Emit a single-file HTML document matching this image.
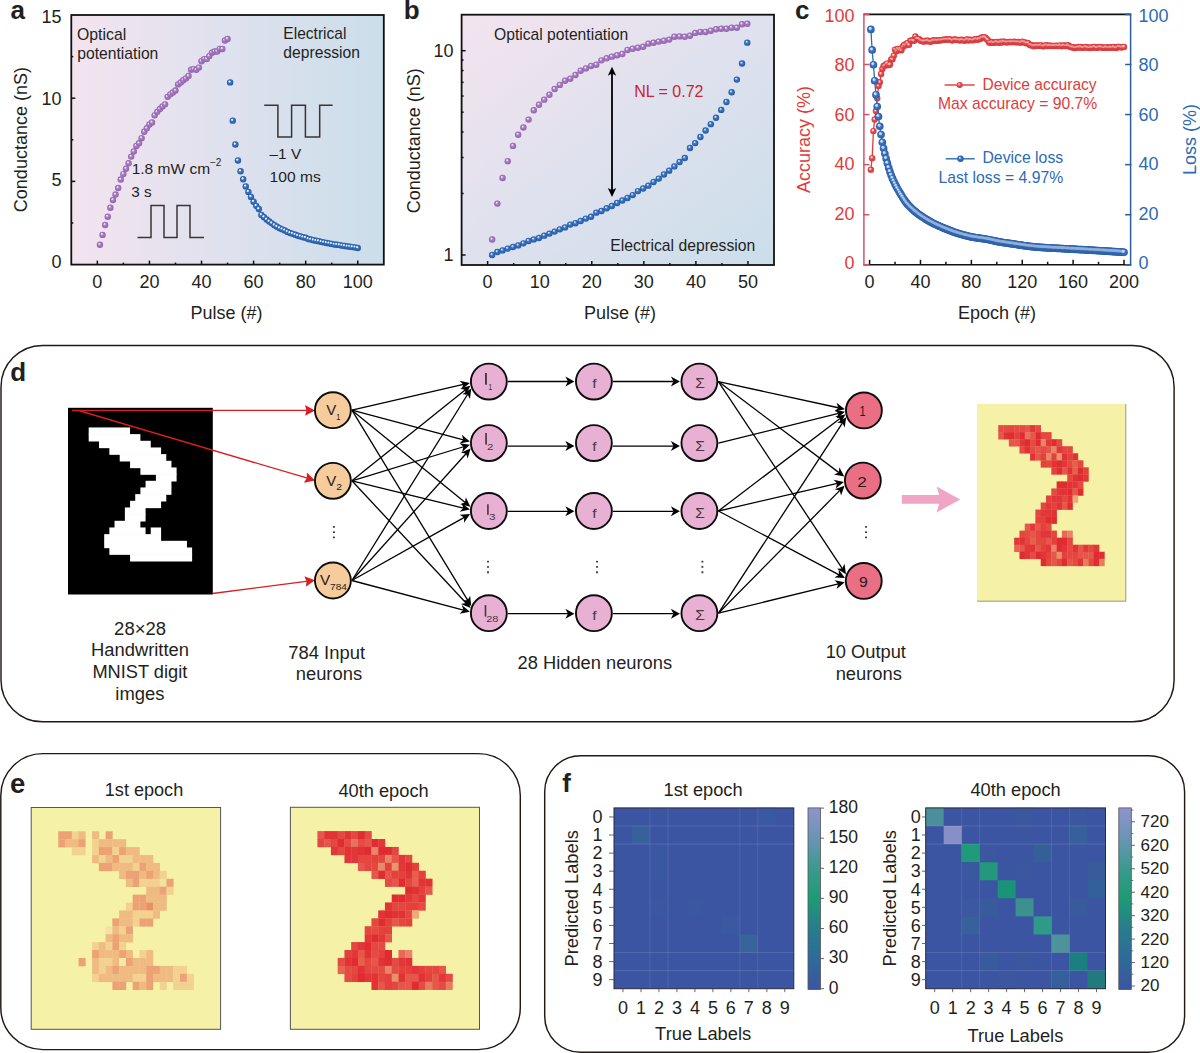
<!DOCTYPE html><html><head><meta charset="utf-8"><style>html,body{margin:0;padding:0;background:#fff}svg{display:block}text{font-family:"Liberation Sans",sans-serif}</style></head><body>
<svg width="1200" height="1053" viewBox="0 0 1200 1053">
<defs>
<linearGradient id="bga" x1="0" y1="0" x2="1" y2="0"><stop offset="0" stop-color="#f3e4ef"/><stop offset="0.5" stop-color="#dfe1ee"/><stop offset="1" stop-color="#cadeea"/></linearGradient>
<linearGradient id="bgb" x1="0" y1="0" x2="1" y2="1"><stop offset="0" stop-color="#f3e4ef"/><stop offset="0.5" stop-color="#dfe1ee"/><stop offset="1" stop-color="#cadeea"/></linearGradient>
<radialGradient id="sp" cx="0.5" cy="0.5" r="0.5" fx="0.36" fy="0.3"><stop offset="0" stop-color="#f8f0f8"/><stop offset="0.18" stop-color="#e6d2ea"/><stop offset="0.45" stop-color="#a77cc0"/><stop offset="0.8" stop-color="#9a6db6"/><stop offset="1" stop-color="#8e62ac"/></radialGradient>
<radialGradient id="sb" cx="0.5" cy="0.5" r="0.5" fx="0.36" fy="0.3"><stop offset="0" stop-color="#f0f5fc"/><stop offset="0.18" stop-color="#b8d0ee"/><stop offset="0.45" stop-color="#3a74c0"/><stop offset="0.8" stop-color="#2b64b0"/><stop offset="1" stop-color="#2458a2"/></radialGradient>
<radialGradient id="sbc" cx="0.5" cy="0.5" r="0.5" fx="0.35" fy="0.3"><stop offset="0" stop-color="#e8f0fa"/><stop offset="0.2" stop-color="#9ab8e4"/><stop offset="0.5" stop-color="#3a74c0"/><stop offset="1" stop-color="#2a5ea8"/></radialGradient>
<radialGradient id="sr" cx="0.5" cy="0.5" r="0.5" fx="0.35" fy="0.3"><stop offset="0" stop-color="#fbe4e4"/><stop offset="0.22" stop-color="#f0a0a0"/><stop offset="0.55" stop-color="#e44646"/><stop offset="1" stop-color="#d6393d"/></radialGradient>
<radialGradient id="hl" cx="0.5" cy="0.5" r="0.5"><stop offset="0" stop-color="#fff" stop-opacity="0.6"/><stop offset="0.5" stop-color="#fff" stop-opacity="0.3"/><stop offset="1" stop-color="#fff" stop-opacity="0"/></radialGradient>
<marker id="ah" viewBox="0 0 10 10" refX="10" refY="5" markerWidth="8" markerHeight="8" orient="auto-start-reverse" markerUnits="userSpaceOnUse"><path d="M0,0 L10,5 L0,10 z" fill="#000"/></marker>
</defs>
<rect x="71.3" y="15.0" width="312.5" height="249.60000000000002" fill="url(#bga)"/>
<text x="10.55" y="18.50" font-size="26" fill="#231f20" font-weight="bold">a</text>
<path d="M137.5,237.5 H151 V205.5 H164 V237.5 H177 V205.5 H190 V237.5 H204" fill="none" stroke="#3a3434" stroke-width="1.5"/>
<path d="M264.2,105.2 H277.9 V136.9 H291.6 V105.2 H305.4 V136.9 H319.7 V105.2 H332.6" fill="none" stroke="#3a3434" stroke-width="1.5"/>
<circle cx="99.95" cy="244.80" r="3.2" fill="url(#sp)"/>
<circle cx="102.55" cy="234.90" r="3.2" fill="url(#sp)"/>
<circle cx="105.15" cy="225.00" r="3.2" fill="url(#sp)"/>
<circle cx="107.76" cy="216.68" r="3.2" fill="url(#sp)"/>
<circle cx="110.36" cy="207.69" r="3.2" fill="url(#sp)"/>
<circle cx="112.97" cy="200.04" r="3.2" fill="url(#sp)"/>
<circle cx="115.57" cy="194.55" r="3.2" fill="url(#sp)"/>
<circle cx="118.17" cy="188.06" r="3.2" fill="url(#sp)"/>
<circle cx="120.78" cy="179.57" r="3.2" fill="url(#sp)"/>
<circle cx="123.38" cy="174.08" r="3.2" fill="url(#sp)"/>
<circle cx="125.99" cy="168.75" r="3.2" fill="url(#sp)"/>
<circle cx="128.59" cy="163.26" r="3.2" fill="url(#sp)"/>
<circle cx="131.20" cy="156.61" r="3.2" fill="url(#sp)"/>
<circle cx="133.80" cy="151.45" r="3.2" fill="url(#sp)"/>
<circle cx="136.40" cy="145.96" r="3.2" fill="url(#sp)"/>
<circle cx="139.01" cy="143.29" r="3.2" fill="url(#sp)"/>
<circle cx="141.61" cy="138.14" r="3.2" fill="url(#sp)"/>
<circle cx="144.22" cy="131.81" r="3.2" fill="url(#sp)"/>
<circle cx="146.82" cy="128.32" r="3.2" fill="url(#sp)"/>
<circle cx="149.43" cy="124.49" r="3.2" fill="url(#sp)"/>
<circle cx="152.03" cy="122.49" r="3.2" fill="url(#sp)"/>
<circle cx="154.63" cy="115.34" r="3.2" fill="url(#sp)"/>
<circle cx="157.24" cy="111.84" r="3.2" fill="url(#sp)"/>
<circle cx="159.84" cy="109.02" r="3.2" fill="url(#sp)"/>
<circle cx="162.45" cy="106.52" r="3.2" fill="url(#sp)"/>
<circle cx="165.05" cy="104.36" r="3.2" fill="url(#sp)"/>
<circle cx="167.65" cy="96.87" r="3.2" fill="url(#sp)"/>
<circle cx="170.26" cy="94.37" r="3.2" fill="url(#sp)"/>
<circle cx="172.86" cy="92.54" r="3.2" fill="url(#sp)"/>
<circle cx="175.47" cy="90.55" r="3.2" fill="url(#sp)"/>
<circle cx="178.07" cy="84.39" r="3.2" fill="url(#sp)"/>
<circle cx="180.68" cy="82.56" r="3.2" fill="url(#sp)"/>
<circle cx="183.28" cy="80.23" r="3.2" fill="url(#sp)"/>
<circle cx="185.88" cy="78.40" r="3.2" fill="url(#sp)"/>
<circle cx="188.49" cy="76.07" r="3.2" fill="url(#sp)"/>
<circle cx="191.09" cy="69.75" r="3.2" fill="url(#sp)"/>
<circle cx="193.70" cy="69.08" r="3.2" fill="url(#sp)"/>
<circle cx="196.30" cy="69.75" r="3.2" fill="url(#sp)"/>
<circle cx="198.90" cy="67.58" r="3.2" fill="url(#sp)"/>
<circle cx="201.51" cy="61.26" r="3.2" fill="url(#sp)"/>
<circle cx="204.11" cy="59.10" r="3.2" fill="url(#sp)"/>
<circle cx="206.72" cy="59.10" r="3.2" fill="url(#sp)"/>
<circle cx="209.32" cy="56.10" r="3.2" fill="url(#sp)"/>
<circle cx="211.93" cy="52.77" r="3.2" fill="url(#sp)"/>
<circle cx="214.53" cy="51.44" r="3.2" fill="url(#sp)"/>
<circle cx="217.13" cy="51.44" r="3.2" fill="url(#sp)"/>
<circle cx="219.74" cy="48.95" r="3.2" fill="url(#sp)"/>
<circle cx="222.34" cy="48.95" r="3.2" fill="url(#sp)"/>
<circle cx="224.95" cy="40.46" r="3.2" fill="url(#sp)"/>
<circle cx="227.55" cy="38.96" r="3.2" fill="url(#sp)"/>
<circle cx="230.15" cy="82.39" r="3.2" fill="url(#sb)"/>
<circle cx="232.76" cy="120.66" r="3.2" fill="url(#sb)"/>
<circle cx="235.36" cy="144.46" r="3.2" fill="url(#sb)"/>
<circle cx="237.97" cy="160.43" r="3.2" fill="url(#sb)"/>
<circle cx="240.57" cy="171.25" r="3.2" fill="url(#sb)"/>
<circle cx="243.18" cy="179.24" r="3.2" fill="url(#sb)"/>
<circle cx="245.78" cy="186.39" r="3.2" fill="url(#sb)"/>
<circle cx="248.38" cy="191.88" r="3.2" fill="url(#sb)"/>
<circle cx="250.99" cy="196.88" r="3.2" fill="url(#sb)"/>
<circle cx="253.59" cy="201.70" r="3.2" fill="url(#sb)"/>
<circle cx="256.20" cy="205.86" r="3.2" fill="url(#sb)"/>
<circle cx="258.80" cy="209.02" r="3.2" fill="url(#sb)"/>
<circle cx="261.40" cy="214.98" r="3.2" fill="url(#sb)"/>
<circle cx="264.01" cy="217.16" r="3.2" fill="url(#sb)"/>
<circle cx="266.61" cy="219.44" r="3.2" fill="url(#sb)"/>
<circle cx="269.22" cy="221.54" r="3.2" fill="url(#sb)"/>
<circle cx="271.82" cy="223.35" r="3.2" fill="url(#sb)"/>
<circle cx="274.43" cy="225.23" r="3.2" fill="url(#sb)"/>
<circle cx="277.03" cy="226.73" r="3.2" fill="url(#sb)"/>
<circle cx="279.63" cy="228.24" r="3.2" fill="url(#sb)"/>
<circle cx="282.24" cy="229.37" r="3.2" fill="url(#sb)"/>
<circle cx="284.84" cy="230.40" r="3.2" fill="url(#sb)"/>
<circle cx="287.45" cy="231.92" r="3.2" fill="url(#sb)"/>
<circle cx="290.05" cy="232.97" r="3.2" fill="url(#sb)"/>
<circle cx="292.65" cy="233.83" r="3.2" fill="url(#sb)"/>
<circle cx="295.26" cy="234.70" r="3.2" fill="url(#sb)"/>
<circle cx="297.86" cy="235.70" r="3.2" fill="url(#sb)"/>
<circle cx="300.47" cy="236.41" r="3.2" fill="url(#sb)"/>
<circle cx="303.07" cy="237.29" r="3.2" fill="url(#sb)"/>
<circle cx="305.68" cy="237.78" r="3.2" fill="url(#sb)"/>
<circle cx="308.28" cy="239.01" r="3.2" fill="url(#sb)"/>
<circle cx="310.88" cy="239.52" r="3.2" fill="url(#sb)"/>
<circle cx="313.49" cy="240.19" r="3.2" fill="url(#sb)"/>
<circle cx="316.09" cy="240.79" r="3.2" fill="url(#sb)"/>
<circle cx="318.70" cy="241.15" r="3.2" fill="url(#sb)"/>
<circle cx="321.30" cy="241.89" r="3.2" fill="url(#sb)"/>
<circle cx="323.90" cy="242.39" r="3.2" fill="url(#sb)"/>
<circle cx="326.51" cy="242.93" r="3.2" fill="url(#sb)"/>
<circle cx="329.11" cy="243.42" r="3.2" fill="url(#sb)"/>
<circle cx="331.72" cy="243.90" r="3.2" fill="url(#sb)"/>
<circle cx="334.32" cy="244.45" r="3.2" fill="url(#sb)"/>
<circle cx="336.93" cy="244.77" r="3.2" fill="url(#sb)"/>
<circle cx="339.53" cy="245.11" r="3.2" fill="url(#sb)"/>
<circle cx="342.13" cy="245.63" r="3.2" fill="url(#sb)"/>
<circle cx="344.74" cy="246.06" r="3.2" fill="url(#sb)"/>
<circle cx="347.34" cy="246.40" r="3.2" fill="url(#sb)"/>
<circle cx="349.95" cy="246.71" r="3.2" fill="url(#sb)"/>
<circle cx="352.55" cy="247.08" r="3.2" fill="url(#sb)"/>
<circle cx="355.15" cy="247.39" r="3.2" fill="url(#sb)"/>
<circle cx="357.76" cy="247.96" r="3.2" fill="url(#sb)"/>
<g opacity="0.7" fill="#ffffff">
<circle cx="229.51" cy="81.59" r="0.96"/>
<circle cx="232.12" cy="119.86" r="0.96"/>
<circle cx="234.72" cy="143.66" r="0.96"/>
<circle cx="237.33" cy="159.63" r="0.96"/>
<circle cx="239.93" cy="170.45" r="0.96"/>
<circle cx="242.54" cy="178.44" r="0.96"/>
<circle cx="245.14" cy="185.59" r="0.96"/>
<circle cx="247.74" cy="191.08" r="0.96"/>
<circle cx="250.35" cy="196.08" r="0.96"/>
<circle cx="252.95" cy="200.90" r="0.96"/>
<circle cx="255.56" cy="205.06" r="0.96"/>
<circle cx="258.16" cy="208.22" r="0.96"/>
<circle cx="260.76" cy="214.18" r="0.96"/>
<circle cx="263.37" cy="216.36" r="0.96"/>
<circle cx="265.97" cy="218.64" r="0.96"/>
<circle cx="268.58" cy="220.74" r="0.96"/>
<circle cx="271.18" cy="222.55" r="0.96"/>
<circle cx="273.79" cy="224.43" r="0.96"/>
<circle cx="276.39" cy="225.93" r="0.96"/>
<circle cx="278.99" cy="227.44" r="0.96"/>
<circle cx="281.60" cy="228.57" r="0.96"/>
<circle cx="284.20" cy="229.60" r="0.96"/>
<circle cx="286.81" cy="231.12" r="0.96"/>
<circle cx="289.41" cy="232.17" r="0.96"/>
<circle cx="292.01" cy="233.03" r="0.96"/>
<circle cx="294.62" cy="233.90" r="0.96"/>
<circle cx="297.22" cy="234.90" r="0.96"/>
<circle cx="299.83" cy="235.61" r="0.96"/>
<circle cx="302.43" cy="236.49" r="0.96"/>
<circle cx="305.04" cy="236.98" r="0.96"/>
<circle cx="307.64" cy="238.21" r="0.96"/>
<circle cx="310.24" cy="238.72" r="0.96"/>
<circle cx="312.85" cy="239.39" r="0.96"/>
<circle cx="315.45" cy="239.99" r="0.96"/>
<circle cx="318.06" cy="240.35" r="0.96"/>
<circle cx="320.66" cy="241.09" r="0.96"/>
<circle cx="323.26" cy="241.59" r="0.96"/>
<circle cx="325.87" cy="242.13" r="0.96"/>
<circle cx="328.47" cy="242.62" r="0.96"/>
<circle cx="331.08" cy="243.10" r="0.96"/>
<circle cx="333.68" cy="243.65" r="0.96"/>
<circle cx="336.29" cy="243.97" r="0.96"/>
<circle cx="338.89" cy="244.31" r="0.96"/>
<circle cx="341.49" cy="244.83" r="0.96"/>
<circle cx="344.10" cy="245.26" r="0.96"/>
<circle cx="346.70" cy="245.60" r="0.96"/>
<circle cx="349.31" cy="245.91" r="0.96"/>
<circle cx="351.91" cy="246.28" r="0.96"/>
<circle cx="354.51" cy="246.59" r="0.96"/>
<circle cx="357.12" cy="247.16" r="0.96"/>
</g>
<text x="77.04" y="40.40" font-size="15.7" fill="#231f20" textLength="49.17" lengthAdjust="spacingAndGlyphs">Optical</text>
<text x="77.25" y="58.75" font-size="15.7" fill="#231f20" textLength="81.07" lengthAdjust="spacingAndGlyphs">potentiation</text>
<text x="283.36" y="39.30" font-size="15.7" fill="#231f20" textLength="63.05" lengthAdjust="spacingAndGlyphs">Electrical</text>
<text x="283.37" y="57.90" font-size="15.7" fill="#231f20" textLength="76.56" lengthAdjust="spacingAndGlyphs">depression</text>
<text x="131.67" y="174.30" font-size="15.5" fill="#231f20" textLength="78.42" lengthAdjust="spacingAndGlyphs">1.8 mW cm</text>
<text x="210.00" y="166.30" font-size="10" fill="#231f20">−2</text>
<text x="131.28" y="196.70" font-size="15.5" fill="#231f20" textLength="20.36" lengthAdjust="spacingAndGlyphs">3 s</text>
<text x="269.60" y="159.25" font-size="15.5" fill="#231f20" textLength="31.54" lengthAdjust="spacingAndGlyphs">–1 V</text>
<text x="269.62" y="181.70" font-size="15.5" fill="#231f20" textLength="51.14" lengthAdjust="spacingAndGlyphs">100 ms</text>
<rect x="71.3" y="15.0" width="312.5" height="249.60000000000002" fill="none" stroke="#111" stroke-width="1.8"/>
<line x1="97.34" y1="264.60" x2="97.34" y2="260.60" stroke="#111" stroke-width="1.5"/>
<text x="97.34" y="287.50" font-size="18" fill="#231f20" text-anchor="middle">0</text>
<line x1="123.38" y1="264.60" x2="123.38" y2="262.60" stroke="#111" stroke-width="1.5"/>
<line x1="149.43" y1="264.60" x2="149.43" y2="260.60" stroke="#111" stroke-width="1.5"/>
<text x="149.43" y="287.50" font-size="18" fill="#231f20" text-anchor="middle">20</text>
<line x1="175.47" y1="264.60" x2="175.47" y2="262.60" stroke="#111" stroke-width="1.5"/>
<line x1="201.51" y1="264.60" x2="201.51" y2="260.60" stroke="#111" stroke-width="1.5"/>
<text x="201.51" y="287.50" font-size="18" fill="#231f20" text-anchor="middle">40</text>
<line x1="227.55" y1="264.60" x2="227.55" y2="262.60" stroke="#111" stroke-width="1.5"/>
<line x1="253.59" y1="264.60" x2="253.59" y2="260.60" stroke="#111" stroke-width="1.5"/>
<text x="253.59" y="287.50" font-size="18" fill="#231f20" text-anchor="middle">60</text>
<line x1="279.63" y1="264.60" x2="279.63" y2="262.60" stroke="#111" stroke-width="1.5"/>
<line x1="305.68" y1="264.60" x2="305.68" y2="260.60" stroke="#111" stroke-width="1.5"/>
<text x="305.68" y="287.50" font-size="18" fill="#231f20" text-anchor="middle">80</text>
<line x1="331.72" y1="264.60" x2="331.72" y2="262.60" stroke="#111" stroke-width="1.5"/>
<line x1="357.76" y1="264.60" x2="357.76" y2="260.60" stroke="#111" stroke-width="1.5"/>
<text x="357.76" y="287.50" font-size="18" fill="#231f20" text-anchor="middle">100</text>
<line x1="71.30" y1="223.00" x2="73.30" y2="223.00" stroke="#111" stroke-width="1.5"/>
<line x1="71.30" y1="181.40" x2="75.30" y2="181.40" stroke="#111" stroke-width="1.5"/>
<line x1="71.30" y1="139.80" x2="73.30" y2="139.80" stroke="#111" stroke-width="1.5"/>
<line x1="71.30" y1="98.20" x2="75.30" y2="98.20" stroke="#111" stroke-width="1.5"/>
<line x1="71.30" y1="56.60" x2="73.30" y2="56.60" stroke="#111" stroke-width="1.5"/>
<text x="61.50" y="268.10" font-size="18" fill="#231f20" text-anchor="end">0</text>
<text x="61.50" y="186.40" font-size="18" fill="#231f20" text-anchor="end">5</text>
<text x="61.50" y="104.70" font-size="18" fill="#231f20" text-anchor="end">10</text>
<text x="61.50" y="23.00" font-size="18" fill="#231f20" text-anchor="end">15</text>
<text x="226.50" y="318.50" font-size="18" fill="#231f20" text-anchor="middle">Pulse (#)</text>
<text x="27.50" y="139.60" font-size="18" fill="#231f20" text-anchor="middle" transform="rotate(-90 27.50 139.60)">Conductance (nS)</text>
<rect x="461.6" y="14.7" width="312.4" height="250.3" fill="url(#bgb)"/>
<text x="403.75" y="18.55" font-size="26" fill="#231f20" font-weight="bold">b</text>
<circle cx="492.14" cy="239.57" r="3.2" fill="url(#sp)"/>
<circle cx="497.35" cy="203.59" r="3.2" fill="url(#sp)"/>
<circle cx="502.55" cy="178.07" r="3.2" fill="url(#sp)"/>
<circle cx="507.76" cy="161.15" r="3.2" fill="url(#sp)"/>
<circle cx="512.97" cy="145.90" r="3.2" fill="url(#sp)"/>
<circle cx="518.17" cy="134.70" r="3.2" fill="url(#sp)"/>
<circle cx="523.38" cy="127.46" r="3.2" fill="url(#sp)"/>
<circle cx="528.59" cy="119.60" r="3.2" fill="url(#sp)"/>
<circle cx="533.79" cy="110.27" r="3.2" fill="url(#sp)"/>
<circle cx="539.00" cy="104.72" r="3.2" fill="url(#sp)"/>
<circle cx="544.21" cy="99.65" r="3.2" fill="url(#sp)"/>
<circle cx="549.41" cy="94.70" r="3.2" fill="url(#sp)"/>
<circle cx="554.62" cy="89.06" r="3.2" fill="url(#sp)"/>
<circle cx="559.83" cy="84.92" r="3.2" fill="url(#sp)"/>
<circle cx="565.03" cy="80.71" r="3.2" fill="url(#sp)"/>
<circle cx="570.24" cy="78.74" r="3.2" fill="url(#sp)"/>
<circle cx="575.45" cy="75.05" r="3.2" fill="url(#sp)"/>
<circle cx="580.65" cy="70.72" r="3.2" fill="url(#sp)"/>
<circle cx="585.86" cy="68.42" r="3.2" fill="url(#sp)"/>
<circle cx="591.07" cy="65.96" r="3.2" fill="url(#sp)"/>
<circle cx="596.27" cy="64.70" r="3.2" fill="url(#sp)"/>
<circle cx="601.48" cy="60.34" r="3.2" fill="url(#sp)"/>
<circle cx="606.69" cy="58.29" r="3.2" fill="url(#sp)"/>
<circle cx="611.89" cy="56.66" r="3.2" fill="url(#sp)"/>
<circle cx="617.10" cy="55.25" r="3.2" fill="url(#sp)"/>
<circle cx="622.31" cy="54.05" r="3.2" fill="url(#sp)"/>
<circle cx="627.51" cy="49.99" r="3.2" fill="url(#sp)"/>
<circle cx="632.72" cy="48.68" r="3.2" fill="url(#sp)"/>
<circle cx="637.93" cy="47.73" r="3.2" fill="url(#sp)"/>
<circle cx="643.13" cy="46.71" r="3.2" fill="url(#sp)"/>
<circle cx="648.34" cy="43.63" r="3.2" fill="url(#sp)"/>
<circle cx="653.55" cy="42.73" r="3.2" fill="url(#sp)"/>
<circle cx="658.75" cy="41.60" r="3.2" fill="url(#sp)"/>
<circle cx="663.96" cy="40.72" r="3.2" fill="url(#sp)"/>
<circle cx="669.17" cy="39.62" r="3.2" fill="url(#sp)"/>
<circle cx="674.37" cy="36.69" r="3.2" fill="url(#sp)"/>
<circle cx="679.58" cy="36.39" r="3.2" fill="url(#sp)"/>
<circle cx="684.79" cy="36.69" r="3.2" fill="url(#sp)"/>
<circle cx="689.99" cy="35.71" r="3.2" fill="url(#sp)"/>
<circle cx="695.20" cy="32.91" r="3.2" fill="url(#sp)"/>
<circle cx="700.41" cy="31.97" r="3.2" fill="url(#sp)"/>
<circle cx="705.61" cy="31.97" r="3.2" fill="url(#sp)"/>
<circle cx="710.82" cy="30.69" r="3.2" fill="url(#sp)"/>
<circle cx="716.03" cy="29.28" r="3.2" fill="url(#sp)"/>
<circle cx="721.23" cy="28.73" r="3.2" fill="url(#sp)"/>
<circle cx="726.44" cy="28.73" r="3.2" fill="url(#sp)"/>
<circle cx="731.65" cy="27.69" r="3.2" fill="url(#sp)"/>
<circle cx="736.85" cy="27.69" r="3.2" fill="url(#sp)"/>
<circle cx="742.06" cy="24.27" r="3.2" fill="url(#sp)"/>
<circle cx="747.27" cy="23.68" r="3.2" fill="url(#sp)"/>
<circle cx="492.14" cy="255.00" r="3.2" fill="url(#sb)"/>
<circle cx="497.35" cy="252.03" r="3.2" fill="url(#sb)"/>
<circle cx="502.55" cy="250.42" r="3.2" fill="url(#sb)"/>
<circle cx="507.76" cy="248.58" r="3.2" fill="url(#sb)"/>
<circle cx="512.97" cy="247.03" r="3.2" fill="url(#sb)"/>
<circle cx="518.17" cy="245.42" r="3.2" fill="url(#sb)"/>
<circle cx="523.38" cy="243.37" r="3.2" fill="url(#sb)"/>
<circle cx="528.59" cy="240.99" r="3.2" fill="url(#sb)"/>
<circle cx="533.79" cy="239.42" r="3.2" fill="url(#sb)"/>
<circle cx="539.00" cy="238.01" r="3.2" fill="url(#sb)"/>
<circle cx="544.21" cy="235.63" r="3.2" fill="url(#sb)"/>
<circle cx="549.41" cy="233.58" r="3.2" fill="url(#sb)"/>
<circle cx="554.62" cy="231.58" r="3.2" fill="url(#sb)"/>
<circle cx="559.83" cy="229.36" r="3.2" fill="url(#sb)"/>
<circle cx="565.03" cy="227.39" r="3.2" fill="url(#sb)"/>
<circle cx="570.24" cy="224.58" r="3.2" fill="url(#sb)"/>
<circle cx="575.45" cy="223.20" r="3.2" fill="url(#sb)"/>
<circle cx="580.65" cy="221.00" r="3.2" fill="url(#sb)"/>
<circle cx="585.86" cy="218.61" r="3.2" fill="url(#sb)"/>
<circle cx="591.07" cy="216.80" r="3.2" fill="url(#sb)"/>
<circle cx="596.27" cy="212.64" r="3.2" fill="url(#sb)"/>
<circle cx="601.48" cy="211.05" r="3.2" fill="url(#sb)"/>
<circle cx="606.69" cy="208.23" r="3.2" fill="url(#sb)"/>
<circle cx="611.89" cy="206.01" r="3.2" fill="url(#sb)"/>
<circle cx="617.10" cy="203.00" r="3.2" fill="url(#sb)"/>
<circle cx="622.31" cy="200.46" r="3.2" fill="url(#sb)"/>
<circle cx="627.51" cy="198.00" r="3.2" fill="url(#sb)"/>
<circle cx="632.72" cy="195.11" r="3.2" fill="url(#sb)"/>
<circle cx="637.93" cy="191.09" r="3.2" fill="url(#sb)"/>
<circle cx="643.13" cy="188.46" r="3.2" fill="url(#sb)"/>
<circle cx="648.34" cy="185.65" r="3.2" fill="url(#sb)"/>
<circle cx="653.55" cy="182.03" r="3.2" fill="url(#sb)"/>
<circle cx="658.75" cy="178.59" r="3.2" fill="url(#sb)"/>
<circle cx="663.96" cy="174.45" r="3.2" fill="url(#sb)"/>
<circle cx="669.17" cy="170.63" r="3.2" fill="url(#sb)"/>
<circle cx="674.37" cy="166.41" r="3.2" fill="url(#sb)"/>
<circle cx="679.58" cy="162.04" r="3.2" fill="url(#sb)"/>
<circle cx="684.79" cy="158.06" r="3.2" fill="url(#sb)"/>
<circle cx="689.99" cy="148.00" r="3.2" fill="url(#sb)"/>
<circle cx="695.20" cy="143.09" r="3.2" fill="url(#sb)"/>
<circle cx="700.41" cy="137.02" r="3.2" fill="url(#sb)"/>
<circle cx="705.61" cy="130.46" r="3.2" fill="url(#sb)"/>
<circle cx="710.82" cy="124.15" r="3.2" fill="url(#sb)"/>
<circle cx="716.03" cy="117.69" r="3.2" fill="url(#sb)"/>
<circle cx="721.23" cy="109.92" r="3.2" fill="url(#sb)"/>
<circle cx="726.44" cy="101.99" r="3.2" fill="url(#sb)"/>
<circle cx="731.65" cy="92.26" r="3.2" fill="url(#sb)"/>
<circle cx="736.85" cy="79.60" r="3.2" fill="url(#sb)"/>
<circle cx="742.06" cy="63.57" r="3.2" fill="url(#sb)"/>
<circle cx="747.27" cy="42.65" r="3.2" fill="url(#sb)"/>
<line x1="612.00" y1="72.00" x2="612.00" y2="192.00" stroke="#000" stroke-width="1.8"/>
<path d="M612,66.7 L607.8,75.8 L612,73.6 L616.2,75.8 Z" fill="#000"/>
<path d="M612,197 L607.8,187.9 L612,190.1 L616.2,187.9 Z" fill="#000"/>
<text x="634.32" y="97.30" font-size="15.7" fill="#c8252c" textLength="69.16" lengthAdjust="spacingAndGlyphs">NL = 0.72</text>
<text x="494.00" y="40.40" font-size="15.7" fill="#231f20" textLength="134.14" lengthAdjust="spacingAndGlyphs">Optical potentiation</text>
<text x="610.34" y="251.25" font-size="15.7" fill="#231f20" textLength="144.97" lengthAdjust="spacingAndGlyphs">Electrical depression</text>
<rect x="461.6" y="14.7" width="312.4" height="250.3" fill="none" stroke="#111" stroke-width="1.8"/>
<line x1="487.63" y1="265.00" x2="487.63" y2="261.00" stroke="#111" stroke-width="1.5"/>
<text x="487.63" y="287.50" font-size="18" fill="#231f20" text-anchor="middle">0</text>
<line x1="513.67" y1="265.00" x2="513.67" y2="263.00" stroke="#111" stroke-width="1.5"/>
<line x1="539.70" y1="265.00" x2="539.70" y2="261.00" stroke="#111" stroke-width="1.5"/>
<text x="539.70" y="287.50" font-size="18" fill="#231f20" text-anchor="middle">10</text>
<line x1="565.73" y1="265.00" x2="565.73" y2="263.00" stroke="#111" stroke-width="1.5"/>
<line x1="591.77" y1="265.00" x2="591.77" y2="261.00" stroke="#111" stroke-width="1.5"/>
<text x="591.77" y="287.50" font-size="18" fill="#231f20" text-anchor="middle">20</text>
<line x1="617.80" y1="265.00" x2="617.80" y2="263.00" stroke="#111" stroke-width="1.5"/>
<line x1="643.83" y1="265.00" x2="643.83" y2="261.00" stroke="#111" stroke-width="1.5"/>
<text x="643.83" y="287.50" font-size="18" fill="#231f20" text-anchor="middle">30</text>
<line x1="669.87" y1="265.00" x2="669.87" y2="263.00" stroke="#111" stroke-width="1.5"/>
<line x1="695.90" y1="265.00" x2="695.90" y2="261.00" stroke="#111" stroke-width="1.5"/>
<text x="695.90" y="287.50" font-size="18" fill="#231f20" text-anchor="middle">40</text>
<line x1="721.93" y1="265.00" x2="721.93" y2="263.00" stroke="#111" stroke-width="1.5"/>
<line x1="747.97" y1="265.00" x2="747.97" y2="261.00" stroke="#111" stroke-width="1.5"/>
<text x="747.97" y="287.50" font-size="18" fill="#231f20" text-anchor="middle">50</text>
<line x1="461.60" y1="255.00" x2="465.60" y2="255.00" stroke="#111" stroke-width="1.5"/>
<line x1="461.60" y1="193.50" x2="463.60" y2="193.50" stroke="#111" stroke-width="1.5"/>
<line x1="461.60" y1="157.52" x2="463.60" y2="157.52" stroke="#111" stroke-width="1.5"/>
<line x1="461.60" y1="132.00" x2="463.60" y2="132.00" stroke="#111" stroke-width="1.5"/>
<line x1="461.60" y1="112.20" x2="463.60" y2="112.20" stroke="#111" stroke-width="1.5"/>
<line x1="461.60" y1="96.02" x2="463.60" y2="96.02" stroke="#111" stroke-width="1.5"/>
<line x1="461.60" y1="82.35" x2="463.60" y2="82.35" stroke="#111" stroke-width="1.5"/>
<line x1="461.60" y1="70.50" x2="463.60" y2="70.50" stroke="#111" stroke-width="1.5"/>
<line x1="461.60" y1="60.05" x2="463.60" y2="60.05" stroke="#111" stroke-width="1.5"/>
<line x1="461.60" y1="50.70" x2="465.60" y2="50.70" stroke="#111" stroke-width="1.5"/>
<text x="453.50" y="57.00" font-size="18" fill="#231f20" text-anchor="end">10</text>
<text x="453.50" y="261.30" font-size="18" fill="#231f20" text-anchor="end">1</text>
<text x="620.10" y="318.50" font-size="18" fill="#231f20" text-anchor="middle">Pulse (#)</text>
<text x="420.50" y="140.80" font-size="18" fill="#231f20" text-anchor="middle" transform="rotate(-90 420.50 140.80)">Conductance (nS)</text>
<text x="795.00" y="19.05" font-size="26" fill="#231f20" font-weight="bold">c</text>
<polyline points="870.87,169.65 872.14,158.13 873.42,131.09 874.69,119.57 875.96,111.05 877.23,98.28 878.50,86.01 879.78,82.26 881.05,74.00 882.32,68.92 883.59,65.93 884.86,65.82 886.14,64.12 887.41,63.41 888.68,65.16 889.95,64.45 891.22,59.45 892.50,59.29 893.77,55.64 895.04,49.73 896.31,51.24 897.58,49.03 898.86,50.18 900.13,48.83 901.40,50.20 902.67,47.06 903.94,45.02 905.22,45.60 906.49,43.67 907.76,43.05 909.03,44.85 910.30,40.78 911.58,40.42 912.85,40.49 914.12,40.71 915.39,36.54 916.66,38.82 917.94,38.83 919.21,39.23 920.48,40.48 921.75,40.91 923.02,41.54 924.30,40.99 925.57,41.38 926.84,40.71 928.11,40.72 929.38,41.62 930.66,41.47 931.93,41.26 933.20,40.19 934.47,40.73 935.74,40.38 937.02,40.69 938.29,40.34 939.56,40.40 940.83,40.35 942.10,39.97 943.38,39.90 944.65,39.45 945.92,39.71 947.19,39.41 948.46,39.52 949.74,39.38 951.01,39.81 952.28,40.49 953.55,39.65 954.82,39.56 956.10,39.66 957.37,40.10 958.64,39.92 959.91,40.55 961.18,39.76 962.46,40.07 963.73,40.42 965.00,40.67 966.27,39.65 967.54,39.45 968.82,40.54 970.09,39.61 971.36,40.05 972.63,40.31 973.90,40.02 975.18,39.27 976.45,38.95 977.72,39.76 978.99,38.80 980.26,39.00 981.54,37.49 982.81,37.65 984.08,37.17 985.35,37.60 986.62,38.93 987.90,40.14 989.17,42.43 990.44,42.72 991.71,42.07 992.98,42.78 994.26,42.57 995.53,42.31 996.80,42.06 998.07,42.62 999.34,42.77 1000.62,41.73 1001.89,42.43 1003.16,41.62 1004.43,41.70 1005.70,42.35 1006.98,42.24 1008.25,42.17 1009.52,42.01 1010.79,42.07 1012.06,42.12 1013.34,42.04 1014.61,41.64 1015.88,42.19 1017.15,42.28 1018.42,41.92 1019.70,42.52 1020.97,42.44 1022.24,41.60 1023.51,42.23 1024.78,42.36 1026.06,43.27 1027.33,43.05 1028.60,43.44 1029.87,45.07 1031.14,45.18 1032.42,45.53 1033.69,46.25 1034.96,45.54 1036.23,45.74 1037.50,45.48 1038.78,45.88 1040.05,45.44 1041.32,45.40 1042.59,46.30 1043.86,46.25 1045.14,45.48 1046.41,45.12 1047.68,46.01 1048.95,45.75 1050.22,45.58 1051.50,45.93 1052.77,45.87 1054.04,45.93 1055.31,45.86 1056.58,45.58 1057.86,45.95 1059.13,45.85 1060.40,45.36 1061.67,46.29 1062.94,45.61 1064.22,45.41 1065.49,45.94 1066.76,46.05 1068.03,45.32 1069.30,46.30 1070.58,46.97 1071.85,47.26 1073.12,47.20 1074.39,47.95 1075.66,47.68 1076.94,47.66 1078.21,47.04 1079.48,47.53 1080.75,47.01 1082.02,47.87 1083.30,47.66 1084.57,47.26 1085.84,46.97 1087.11,47.51 1088.38,47.80 1089.66,47.93 1090.93,47.42 1092.20,47.84 1093.47,47.07 1094.74,47.03 1096.02,47.85 1097.29,47.73 1098.56,47.07 1099.83,47.28 1101.10,47.07 1102.38,47.65 1103.65,47.92 1104.92,47.71 1106.19,47.08 1107.46,47.74 1108.74,47.65 1110.01,47.56 1111.28,47.55 1112.55,47.57 1113.82,46.93 1115.10,47.88 1116.37,48.07 1117.64,46.90 1118.91,46.98 1120.18,46.84 1121.46,47.53 1122.73,46.89 1124.00,46.92" fill="none" stroke="#e03c3c" stroke-width="1.3"/>
<circle cx="870.87" cy="169.65" r="3.2" fill="url(#sr)"/>
<circle cx="872.14" cy="158.13" r="3.2" fill="url(#sr)"/>
<circle cx="873.42" cy="131.09" r="3.2" fill="url(#sr)"/>
<circle cx="874.69" cy="119.57" r="3.2" fill="url(#sr)"/>
<circle cx="875.96" cy="111.05" r="3.2" fill="url(#sr)"/>
<circle cx="877.23" cy="98.28" r="3.2" fill="url(#sr)"/>
<circle cx="878.50" cy="86.01" r="3.2" fill="url(#sr)"/>
<circle cx="879.78" cy="82.26" r="3.2" fill="url(#sr)"/>
<circle cx="881.05" cy="74.00" r="3.2" fill="url(#sr)"/>
<circle cx="882.32" cy="68.92" r="3.2" fill="url(#sr)"/>
<circle cx="883.59" cy="65.93" r="3.2" fill="url(#sr)"/>
<circle cx="884.86" cy="65.82" r="3.2" fill="url(#sr)"/>
<circle cx="886.14" cy="64.12" r="3.2" fill="url(#sr)"/>
<circle cx="887.41" cy="63.41" r="3.2" fill="url(#sr)"/>
<circle cx="888.68" cy="65.16" r="3.2" fill="url(#sr)"/>
<circle cx="889.95" cy="64.45" r="3.2" fill="url(#sr)"/>
<circle cx="891.22" cy="59.45" r="3.2" fill="url(#sr)"/>
<circle cx="892.50" cy="59.29" r="3.2" fill="url(#sr)"/>
<circle cx="893.77" cy="55.64" r="3.2" fill="url(#sr)"/>
<circle cx="895.04" cy="49.73" r="3.2" fill="url(#sr)"/>
<circle cx="896.31" cy="51.24" r="3.2" fill="url(#sr)"/>
<circle cx="897.58" cy="49.03" r="3.2" fill="url(#sr)"/>
<circle cx="898.86" cy="50.18" r="3.2" fill="url(#sr)"/>
<circle cx="900.13" cy="48.83" r="3.2" fill="url(#sr)"/>
<circle cx="901.40" cy="50.20" r="3.2" fill="url(#sr)"/>
<circle cx="902.67" cy="47.06" r="3.2" fill="url(#sr)"/>
<circle cx="903.94" cy="45.02" r="3.2" fill="url(#sr)"/>
<circle cx="905.22" cy="45.60" r="3.2" fill="url(#sr)"/>
<circle cx="906.49" cy="43.67" r="3.2" fill="url(#sr)"/>
<circle cx="907.76" cy="43.05" r="3.2" fill="url(#sr)"/>
<circle cx="909.03" cy="44.85" r="3.2" fill="url(#sr)"/>
<circle cx="910.30" cy="40.78" r="3.2" fill="url(#sr)"/>
<circle cx="911.58" cy="40.42" r="3.2" fill="url(#sr)"/>
<circle cx="912.85" cy="40.49" r="3.2" fill="url(#sr)"/>
<circle cx="914.12" cy="40.71" r="3.2" fill="url(#sr)"/>
<circle cx="915.39" cy="36.54" r="3.2" fill="url(#sr)"/>
<circle cx="916.66" cy="38.82" r="3.2" fill="url(#sr)"/>
<circle cx="917.94" cy="38.83" r="3.2" fill="url(#sr)"/>
<circle cx="919.21" cy="39.23" r="3.2" fill="url(#sr)"/>
<circle cx="920.48" cy="40.48" r="3.2" fill="url(#sr)"/>
<circle cx="921.75" cy="40.91" r="3.2" fill="url(#sr)"/>
<circle cx="923.02" cy="41.54" r="3.2" fill="url(#sr)"/>
<circle cx="924.30" cy="40.99" r="3.2" fill="url(#sr)"/>
<circle cx="925.57" cy="41.38" r="3.2" fill="url(#sr)"/>
<circle cx="926.84" cy="40.71" r="3.2" fill="url(#sr)"/>
<circle cx="928.11" cy="40.72" r="3.2" fill="url(#sr)"/>
<circle cx="929.38" cy="41.62" r="3.2" fill="url(#sr)"/>
<circle cx="930.66" cy="41.47" r="3.2" fill="url(#sr)"/>
<circle cx="931.93" cy="41.26" r="3.2" fill="url(#sr)"/>
<circle cx="933.20" cy="40.19" r="3.2" fill="url(#sr)"/>
<circle cx="934.47" cy="40.73" r="3.2" fill="url(#sr)"/>
<circle cx="935.74" cy="40.38" r="3.2" fill="url(#sr)"/>
<circle cx="937.02" cy="40.69" r="3.2" fill="url(#sr)"/>
<circle cx="938.29" cy="40.34" r="3.2" fill="url(#sr)"/>
<circle cx="939.56" cy="40.40" r="3.2" fill="url(#sr)"/>
<circle cx="940.83" cy="40.35" r="3.2" fill="url(#sr)"/>
<circle cx="942.10" cy="39.97" r="3.2" fill="url(#sr)"/>
<circle cx="943.38" cy="39.90" r="3.2" fill="url(#sr)"/>
<circle cx="944.65" cy="39.45" r="3.2" fill="url(#sr)"/>
<circle cx="945.92" cy="39.71" r="3.2" fill="url(#sr)"/>
<circle cx="947.19" cy="39.41" r="3.2" fill="url(#sr)"/>
<circle cx="948.46" cy="39.52" r="3.2" fill="url(#sr)"/>
<circle cx="949.74" cy="39.38" r="3.2" fill="url(#sr)"/>
<circle cx="951.01" cy="39.81" r="3.2" fill="url(#sr)"/>
<circle cx="952.28" cy="40.49" r="3.2" fill="url(#sr)"/>
<circle cx="953.55" cy="39.65" r="3.2" fill="url(#sr)"/>
<circle cx="954.82" cy="39.56" r="3.2" fill="url(#sr)"/>
<circle cx="956.10" cy="39.66" r="3.2" fill="url(#sr)"/>
<circle cx="957.37" cy="40.10" r="3.2" fill="url(#sr)"/>
<circle cx="958.64" cy="39.92" r="3.2" fill="url(#sr)"/>
<circle cx="959.91" cy="40.55" r="3.2" fill="url(#sr)"/>
<circle cx="961.18" cy="39.76" r="3.2" fill="url(#sr)"/>
<circle cx="962.46" cy="40.07" r="3.2" fill="url(#sr)"/>
<circle cx="963.73" cy="40.42" r="3.2" fill="url(#sr)"/>
<circle cx="965.00" cy="40.67" r="3.2" fill="url(#sr)"/>
<circle cx="966.27" cy="39.65" r="3.2" fill="url(#sr)"/>
<circle cx="967.54" cy="39.45" r="3.2" fill="url(#sr)"/>
<circle cx="968.82" cy="40.54" r="3.2" fill="url(#sr)"/>
<circle cx="970.09" cy="39.61" r="3.2" fill="url(#sr)"/>
<circle cx="971.36" cy="40.05" r="3.2" fill="url(#sr)"/>
<circle cx="972.63" cy="40.31" r="3.2" fill="url(#sr)"/>
<circle cx="973.90" cy="40.02" r="3.2" fill="url(#sr)"/>
<circle cx="975.18" cy="39.27" r="3.2" fill="url(#sr)"/>
<circle cx="976.45" cy="38.95" r="3.2" fill="url(#sr)"/>
<circle cx="977.72" cy="39.76" r="3.2" fill="url(#sr)"/>
<circle cx="978.99" cy="38.80" r="3.2" fill="url(#sr)"/>
<circle cx="980.26" cy="39.00" r="3.2" fill="url(#sr)"/>
<circle cx="981.54" cy="37.49" r="3.2" fill="url(#sr)"/>
<circle cx="982.81" cy="37.65" r="3.2" fill="url(#sr)"/>
<circle cx="984.08" cy="37.17" r="3.2" fill="url(#sr)"/>
<circle cx="985.35" cy="37.60" r="3.2" fill="url(#sr)"/>
<circle cx="986.62" cy="38.93" r="3.2" fill="url(#sr)"/>
<circle cx="987.90" cy="40.14" r="3.2" fill="url(#sr)"/>
<circle cx="989.17" cy="42.43" r="3.2" fill="url(#sr)"/>
<circle cx="990.44" cy="42.72" r="3.2" fill="url(#sr)"/>
<circle cx="991.71" cy="42.07" r="3.2" fill="url(#sr)"/>
<circle cx="992.98" cy="42.78" r="3.2" fill="url(#sr)"/>
<circle cx="994.26" cy="42.57" r="3.2" fill="url(#sr)"/>
<circle cx="995.53" cy="42.31" r="3.2" fill="url(#sr)"/>
<circle cx="996.80" cy="42.06" r="3.2" fill="url(#sr)"/>
<circle cx="998.07" cy="42.62" r="3.2" fill="url(#sr)"/>
<circle cx="999.34" cy="42.77" r="3.2" fill="url(#sr)"/>
<circle cx="1000.62" cy="41.73" r="3.2" fill="url(#sr)"/>
<circle cx="1001.89" cy="42.43" r="3.2" fill="url(#sr)"/>
<circle cx="1003.16" cy="41.62" r="3.2" fill="url(#sr)"/>
<circle cx="1004.43" cy="41.70" r="3.2" fill="url(#sr)"/>
<circle cx="1005.70" cy="42.35" r="3.2" fill="url(#sr)"/>
<circle cx="1006.98" cy="42.24" r="3.2" fill="url(#sr)"/>
<circle cx="1008.25" cy="42.17" r="3.2" fill="url(#sr)"/>
<circle cx="1009.52" cy="42.01" r="3.2" fill="url(#sr)"/>
<circle cx="1010.79" cy="42.07" r="3.2" fill="url(#sr)"/>
<circle cx="1012.06" cy="42.12" r="3.2" fill="url(#sr)"/>
<circle cx="1013.34" cy="42.04" r="3.2" fill="url(#sr)"/>
<circle cx="1014.61" cy="41.64" r="3.2" fill="url(#sr)"/>
<circle cx="1015.88" cy="42.19" r="3.2" fill="url(#sr)"/>
<circle cx="1017.15" cy="42.28" r="3.2" fill="url(#sr)"/>
<circle cx="1018.42" cy="41.92" r="3.2" fill="url(#sr)"/>
<circle cx="1019.70" cy="42.52" r="3.2" fill="url(#sr)"/>
<circle cx="1020.97" cy="42.44" r="3.2" fill="url(#sr)"/>
<circle cx="1022.24" cy="41.60" r="3.2" fill="url(#sr)"/>
<circle cx="1023.51" cy="42.23" r="3.2" fill="url(#sr)"/>
<circle cx="1024.78" cy="42.36" r="3.2" fill="url(#sr)"/>
<circle cx="1026.06" cy="43.27" r="3.2" fill="url(#sr)"/>
<circle cx="1027.33" cy="43.05" r="3.2" fill="url(#sr)"/>
<circle cx="1028.60" cy="43.44" r="3.2" fill="url(#sr)"/>
<circle cx="1029.87" cy="45.07" r="3.2" fill="url(#sr)"/>
<circle cx="1031.14" cy="45.18" r="3.2" fill="url(#sr)"/>
<circle cx="1032.42" cy="45.53" r="3.2" fill="url(#sr)"/>
<circle cx="1033.69" cy="46.25" r="3.2" fill="url(#sr)"/>
<circle cx="1034.96" cy="45.54" r="3.2" fill="url(#sr)"/>
<circle cx="1036.23" cy="45.74" r="3.2" fill="url(#sr)"/>
<circle cx="1037.50" cy="45.48" r="3.2" fill="url(#sr)"/>
<circle cx="1038.78" cy="45.88" r="3.2" fill="url(#sr)"/>
<circle cx="1040.05" cy="45.44" r="3.2" fill="url(#sr)"/>
<circle cx="1041.32" cy="45.40" r="3.2" fill="url(#sr)"/>
<circle cx="1042.59" cy="46.30" r="3.2" fill="url(#sr)"/>
<circle cx="1043.86" cy="46.25" r="3.2" fill="url(#sr)"/>
<circle cx="1045.14" cy="45.48" r="3.2" fill="url(#sr)"/>
<circle cx="1046.41" cy="45.12" r="3.2" fill="url(#sr)"/>
<circle cx="1047.68" cy="46.01" r="3.2" fill="url(#sr)"/>
<circle cx="1048.95" cy="45.75" r="3.2" fill="url(#sr)"/>
<circle cx="1050.22" cy="45.58" r="3.2" fill="url(#sr)"/>
<circle cx="1051.50" cy="45.93" r="3.2" fill="url(#sr)"/>
<circle cx="1052.77" cy="45.87" r="3.2" fill="url(#sr)"/>
<circle cx="1054.04" cy="45.93" r="3.2" fill="url(#sr)"/>
<circle cx="1055.31" cy="45.86" r="3.2" fill="url(#sr)"/>
<circle cx="1056.58" cy="45.58" r="3.2" fill="url(#sr)"/>
<circle cx="1057.86" cy="45.95" r="3.2" fill="url(#sr)"/>
<circle cx="1059.13" cy="45.85" r="3.2" fill="url(#sr)"/>
<circle cx="1060.40" cy="45.36" r="3.2" fill="url(#sr)"/>
<circle cx="1061.67" cy="46.29" r="3.2" fill="url(#sr)"/>
<circle cx="1062.94" cy="45.61" r="3.2" fill="url(#sr)"/>
<circle cx="1064.22" cy="45.41" r="3.2" fill="url(#sr)"/>
<circle cx="1065.49" cy="45.94" r="3.2" fill="url(#sr)"/>
<circle cx="1066.76" cy="46.05" r="3.2" fill="url(#sr)"/>
<circle cx="1068.03" cy="45.32" r="3.2" fill="url(#sr)"/>
<circle cx="1069.30" cy="46.30" r="3.2" fill="url(#sr)"/>
<circle cx="1070.58" cy="46.97" r="3.2" fill="url(#sr)"/>
<circle cx="1071.85" cy="47.26" r="3.2" fill="url(#sr)"/>
<circle cx="1073.12" cy="47.20" r="3.2" fill="url(#sr)"/>
<circle cx="1074.39" cy="47.95" r="3.2" fill="url(#sr)"/>
<circle cx="1075.66" cy="47.68" r="3.2" fill="url(#sr)"/>
<circle cx="1076.94" cy="47.66" r="3.2" fill="url(#sr)"/>
<circle cx="1078.21" cy="47.04" r="3.2" fill="url(#sr)"/>
<circle cx="1079.48" cy="47.53" r="3.2" fill="url(#sr)"/>
<circle cx="1080.75" cy="47.01" r="3.2" fill="url(#sr)"/>
<circle cx="1082.02" cy="47.87" r="3.2" fill="url(#sr)"/>
<circle cx="1083.30" cy="47.66" r="3.2" fill="url(#sr)"/>
<circle cx="1084.57" cy="47.26" r="3.2" fill="url(#sr)"/>
<circle cx="1085.84" cy="46.97" r="3.2" fill="url(#sr)"/>
<circle cx="1087.11" cy="47.51" r="3.2" fill="url(#sr)"/>
<circle cx="1088.38" cy="47.80" r="3.2" fill="url(#sr)"/>
<circle cx="1089.66" cy="47.93" r="3.2" fill="url(#sr)"/>
<circle cx="1090.93" cy="47.42" r="3.2" fill="url(#sr)"/>
<circle cx="1092.20" cy="47.84" r="3.2" fill="url(#sr)"/>
<circle cx="1093.47" cy="47.07" r="3.2" fill="url(#sr)"/>
<circle cx="1094.74" cy="47.03" r="3.2" fill="url(#sr)"/>
<circle cx="1096.02" cy="47.85" r="3.2" fill="url(#sr)"/>
<circle cx="1097.29" cy="47.73" r="3.2" fill="url(#sr)"/>
<circle cx="1098.56" cy="47.07" r="3.2" fill="url(#sr)"/>
<circle cx="1099.83" cy="47.28" r="3.2" fill="url(#sr)"/>
<circle cx="1101.10" cy="47.07" r="3.2" fill="url(#sr)"/>
<circle cx="1102.38" cy="47.65" r="3.2" fill="url(#sr)"/>
<circle cx="1103.65" cy="47.92" r="3.2" fill="url(#sr)"/>
<circle cx="1104.92" cy="47.71" r="3.2" fill="url(#sr)"/>
<circle cx="1106.19" cy="47.08" r="3.2" fill="url(#sr)"/>
<circle cx="1107.46" cy="47.74" r="3.2" fill="url(#sr)"/>
<circle cx="1108.74" cy="47.65" r="3.2" fill="url(#sr)"/>
<circle cx="1110.01" cy="47.56" r="3.2" fill="url(#sr)"/>
<circle cx="1111.28" cy="47.55" r="3.2" fill="url(#sr)"/>
<circle cx="1112.55" cy="47.57" r="3.2" fill="url(#sr)"/>
<circle cx="1113.82" cy="46.93" r="3.2" fill="url(#sr)"/>
<circle cx="1115.10" cy="47.88" r="3.2" fill="url(#sr)"/>
<circle cx="1116.37" cy="48.07" r="3.2" fill="url(#sr)"/>
<circle cx="1117.64" cy="46.90" r="3.2" fill="url(#sr)"/>
<circle cx="1118.91" cy="46.98" r="3.2" fill="url(#sr)"/>
<circle cx="1120.18" cy="46.84" r="3.2" fill="url(#sr)"/>
<circle cx="1121.46" cy="47.53" r="3.2" fill="url(#sr)"/>
<circle cx="1122.73" cy="46.89" r="3.2" fill="url(#sr)"/>
<circle cx="1124.00" cy="46.92" r="3.2" fill="url(#sr)"/>
<g opacity="0.45" fill="#ffffff">
<circle cx="870.39" cy="168.85" r="0.96"/>
<circle cx="871.66" cy="157.33" r="0.96"/>
<circle cx="872.94" cy="130.29" r="0.96"/>
<circle cx="874.21" cy="118.77" r="0.96"/>
<circle cx="875.48" cy="110.25" r="0.96"/>
<circle cx="876.75" cy="97.48" r="0.96"/>
<circle cx="878.02" cy="85.21" r="0.96"/>
<circle cx="879.30" cy="81.46" r="0.96"/>
<circle cx="880.57" cy="73.20" r="0.96"/>
<circle cx="881.84" cy="68.12" r="0.96"/>
<circle cx="883.11" cy="65.13" r="0.96"/>
<circle cx="884.38" cy="65.02" r="0.96"/>
<circle cx="885.66" cy="63.32" r="0.96"/>
<circle cx="886.93" cy="62.61" r="0.96"/>
<circle cx="888.20" cy="64.36" r="0.96"/>
<circle cx="889.47" cy="63.65" r="0.96"/>
<circle cx="890.74" cy="58.65" r="0.96"/>
<circle cx="892.02" cy="58.49" r="0.96"/>
<circle cx="893.29" cy="54.84" r="0.96"/>
<circle cx="894.56" cy="48.93" r="0.96"/>
<circle cx="895.83" cy="50.44" r="0.96"/>
<circle cx="897.10" cy="48.23" r="0.96"/>
<circle cx="898.38" cy="49.38" r="0.96"/>
<circle cx="899.65" cy="48.03" r="0.96"/>
<circle cx="900.92" cy="49.40" r="0.96"/>
<circle cx="902.19" cy="46.26" r="0.96"/>
<circle cx="903.46" cy="44.22" r="0.96"/>
<circle cx="904.74" cy="44.80" r="0.96"/>
<circle cx="906.01" cy="42.87" r="0.96"/>
<circle cx="907.28" cy="42.25" r="0.96"/>
<circle cx="908.55" cy="44.05" r="0.96"/>
<circle cx="909.82" cy="39.98" r="0.96"/>
<circle cx="911.10" cy="39.62" r="0.96"/>
<circle cx="912.37" cy="39.69" r="0.96"/>
<circle cx="913.64" cy="39.91" r="0.96"/>
<circle cx="914.91" cy="35.74" r="0.96"/>
<circle cx="916.18" cy="38.02" r="0.96"/>
<circle cx="917.46" cy="38.03" r="0.96"/>
<circle cx="918.73" cy="38.43" r="0.96"/>
<circle cx="920.00" cy="39.68" r="0.96"/>
<circle cx="921.27" cy="40.11" r="0.96"/>
<circle cx="922.54" cy="40.74" r="0.96"/>
<circle cx="923.82" cy="40.19" r="0.96"/>
<circle cx="925.09" cy="40.58" r="0.96"/>
<circle cx="926.36" cy="39.91" r="0.96"/>
<circle cx="927.63" cy="39.92" r="0.96"/>
<circle cx="928.90" cy="40.82" r="0.96"/>
<circle cx="930.18" cy="40.67" r="0.96"/>
<circle cx="931.45" cy="40.46" r="0.96"/>
<circle cx="932.72" cy="39.39" r="0.96"/>
<circle cx="933.99" cy="39.93" r="0.96"/>
<circle cx="935.26" cy="39.58" r="0.96"/>
<circle cx="936.54" cy="39.89" r="0.96"/>
<circle cx="937.81" cy="39.54" r="0.96"/>
<circle cx="939.08" cy="39.60" r="0.96"/>
<circle cx="940.35" cy="39.55" r="0.96"/>
<circle cx="941.62" cy="39.17" r="0.96"/>
<circle cx="942.90" cy="39.10" r="0.96"/>
<circle cx="944.17" cy="38.65" r="0.96"/>
<circle cx="945.44" cy="38.91" r="0.96"/>
<circle cx="946.71" cy="38.61" r="0.96"/>
<circle cx="947.98" cy="38.72" r="0.96"/>
<circle cx="949.26" cy="38.58" r="0.96"/>
<circle cx="950.53" cy="39.01" r="0.96"/>
<circle cx="951.80" cy="39.69" r="0.96"/>
<circle cx="953.07" cy="38.85" r="0.96"/>
<circle cx="954.34" cy="38.76" r="0.96"/>
<circle cx="955.62" cy="38.86" r="0.96"/>
<circle cx="956.89" cy="39.30" r="0.96"/>
<circle cx="958.16" cy="39.12" r="0.96"/>
<circle cx="959.43" cy="39.75" r="0.96"/>
<circle cx="960.70" cy="38.96" r="0.96"/>
<circle cx="961.98" cy="39.27" r="0.96"/>
<circle cx="963.25" cy="39.62" r="0.96"/>
<circle cx="964.52" cy="39.87" r="0.96"/>
<circle cx="965.79" cy="38.85" r="0.96"/>
<circle cx="967.06" cy="38.65" r="0.96"/>
<circle cx="968.34" cy="39.74" r="0.96"/>
<circle cx="969.61" cy="38.81" r="0.96"/>
<circle cx="970.88" cy="39.25" r="0.96"/>
<circle cx="972.15" cy="39.51" r="0.96"/>
<circle cx="973.42" cy="39.22" r="0.96"/>
<circle cx="974.70" cy="38.47" r="0.96"/>
<circle cx="975.97" cy="38.15" r="0.96"/>
<circle cx="977.24" cy="38.96" r="0.96"/>
<circle cx="978.51" cy="38.00" r="0.96"/>
<circle cx="979.78" cy="38.20" r="0.96"/>
<circle cx="981.06" cy="36.69" r="0.96"/>
<circle cx="982.33" cy="36.85" r="0.96"/>
<circle cx="983.60" cy="36.37" r="0.96"/>
<circle cx="984.87" cy="36.80" r="0.96"/>
<circle cx="986.14" cy="38.13" r="0.96"/>
<circle cx="987.42" cy="39.34" r="0.96"/>
<circle cx="988.69" cy="41.63" r="0.96"/>
<circle cx="989.96" cy="41.92" r="0.96"/>
<circle cx="991.23" cy="41.27" r="0.96"/>
<circle cx="992.50" cy="41.98" r="0.96"/>
<circle cx="993.78" cy="41.77" r="0.96"/>
<circle cx="995.05" cy="41.51" r="0.96"/>
<circle cx="996.32" cy="41.26" r="0.96"/>
<circle cx="997.59" cy="41.82" r="0.96"/>
<circle cx="998.86" cy="41.97" r="0.96"/>
<circle cx="1000.14" cy="40.93" r="0.96"/>
<circle cx="1001.41" cy="41.63" r="0.96"/>
<circle cx="1002.68" cy="40.82" r="0.96"/>
<circle cx="1003.95" cy="40.90" r="0.96"/>
<circle cx="1005.22" cy="41.55" r="0.96"/>
<circle cx="1006.50" cy="41.44" r="0.96"/>
<circle cx="1007.77" cy="41.37" r="0.96"/>
<circle cx="1009.04" cy="41.21" r="0.96"/>
<circle cx="1010.31" cy="41.27" r="0.96"/>
<circle cx="1011.58" cy="41.32" r="0.96"/>
<circle cx="1012.86" cy="41.24" r="0.96"/>
<circle cx="1014.13" cy="40.84" r="0.96"/>
<circle cx="1015.40" cy="41.39" r="0.96"/>
<circle cx="1016.67" cy="41.48" r="0.96"/>
<circle cx="1017.94" cy="41.12" r="0.96"/>
<circle cx="1019.22" cy="41.72" r="0.96"/>
<circle cx="1020.49" cy="41.64" r="0.96"/>
<circle cx="1021.76" cy="40.80" r="0.96"/>
<circle cx="1023.03" cy="41.43" r="0.96"/>
<circle cx="1024.30" cy="41.56" r="0.96"/>
<circle cx="1025.58" cy="42.47" r="0.96"/>
<circle cx="1026.85" cy="42.25" r="0.96"/>
<circle cx="1028.12" cy="42.64" r="0.96"/>
<circle cx="1029.39" cy="44.27" r="0.96"/>
<circle cx="1030.66" cy="44.38" r="0.96"/>
<circle cx="1031.94" cy="44.73" r="0.96"/>
<circle cx="1033.21" cy="45.45" r="0.96"/>
<circle cx="1034.48" cy="44.74" r="0.96"/>
<circle cx="1035.75" cy="44.94" r="0.96"/>
<circle cx="1037.02" cy="44.68" r="0.96"/>
<circle cx="1038.30" cy="45.08" r="0.96"/>
<circle cx="1039.57" cy="44.64" r="0.96"/>
<circle cx="1040.84" cy="44.60" r="0.96"/>
<circle cx="1042.11" cy="45.50" r="0.96"/>
<circle cx="1043.38" cy="45.45" r="0.96"/>
<circle cx="1044.66" cy="44.68" r="0.96"/>
<circle cx="1045.93" cy="44.32" r="0.96"/>
<circle cx="1047.20" cy="45.21" r="0.96"/>
<circle cx="1048.47" cy="44.95" r="0.96"/>
<circle cx="1049.74" cy="44.78" r="0.96"/>
<circle cx="1051.02" cy="45.13" r="0.96"/>
<circle cx="1052.29" cy="45.07" r="0.96"/>
<circle cx="1053.56" cy="45.13" r="0.96"/>
<circle cx="1054.83" cy="45.06" r="0.96"/>
<circle cx="1056.10" cy="44.78" r="0.96"/>
<circle cx="1057.38" cy="45.15" r="0.96"/>
<circle cx="1058.65" cy="45.05" r="0.96"/>
<circle cx="1059.92" cy="44.56" r="0.96"/>
<circle cx="1061.19" cy="45.49" r="0.96"/>
<circle cx="1062.46" cy="44.81" r="0.96"/>
<circle cx="1063.74" cy="44.61" r="0.96"/>
<circle cx="1065.01" cy="45.14" r="0.96"/>
<circle cx="1066.28" cy="45.25" r="0.96"/>
<circle cx="1067.55" cy="44.52" r="0.96"/>
<circle cx="1068.82" cy="45.50" r="0.96"/>
<circle cx="1070.10" cy="46.17" r="0.96"/>
<circle cx="1071.37" cy="46.46" r="0.96"/>
<circle cx="1072.64" cy="46.40" r="0.96"/>
<circle cx="1073.91" cy="47.15" r="0.96"/>
<circle cx="1075.18" cy="46.88" r="0.96"/>
<circle cx="1076.46" cy="46.86" r="0.96"/>
<circle cx="1077.73" cy="46.24" r="0.96"/>
<circle cx="1079.00" cy="46.73" r="0.96"/>
<circle cx="1080.27" cy="46.21" r="0.96"/>
<circle cx="1081.54" cy="47.07" r="0.96"/>
<circle cx="1082.82" cy="46.86" r="0.96"/>
<circle cx="1084.09" cy="46.46" r="0.96"/>
<circle cx="1085.36" cy="46.17" r="0.96"/>
<circle cx="1086.63" cy="46.71" r="0.96"/>
<circle cx="1087.90" cy="47.00" r="0.96"/>
<circle cx="1089.18" cy="47.13" r="0.96"/>
<circle cx="1090.45" cy="46.62" r="0.96"/>
<circle cx="1091.72" cy="47.04" r="0.96"/>
<circle cx="1092.99" cy="46.27" r="0.96"/>
<circle cx="1094.26" cy="46.23" r="0.96"/>
<circle cx="1095.54" cy="47.05" r="0.96"/>
<circle cx="1096.81" cy="46.93" r="0.96"/>
<circle cx="1098.08" cy="46.27" r="0.96"/>
<circle cx="1099.35" cy="46.48" r="0.96"/>
<circle cx="1100.62" cy="46.27" r="0.96"/>
<circle cx="1101.90" cy="46.85" r="0.96"/>
<circle cx="1103.17" cy="47.12" r="0.96"/>
<circle cx="1104.44" cy="46.91" r="0.96"/>
<circle cx="1105.71" cy="46.28" r="0.96"/>
<circle cx="1106.98" cy="46.94" r="0.96"/>
<circle cx="1108.26" cy="46.85" r="0.96"/>
<circle cx="1109.53" cy="46.76" r="0.96"/>
<circle cx="1110.80" cy="46.75" r="0.96"/>
<circle cx="1112.07" cy="46.77" r="0.96"/>
<circle cx="1113.34" cy="46.13" r="0.96"/>
<circle cx="1114.62" cy="47.08" r="0.96"/>
<circle cx="1115.89" cy="47.27" r="0.96"/>
<circle cx="1117.16" cy="46.10" r="0.96"/>
<circle cx="1118.43" cy="46.18" r="0.96"/>
<circle cx="1119.70" cy="46.04" r="0.96"/>
<circle cx="1120.98" cy="46.73" r="0.96"/>
<circle cx="1122.25" cy="46.09" r="0.96"/>
<circle cx="1123.52" cy="46.12" r="0.96"/>
</g>
<polyline points="870.87,29.42 872.14,49.96 873.42,64.73 874.69,80.76 875.96,94.78 877.23,106.55 878.50,116.56 879.78,126.33 881.05,134.59 882.32,142.35 883.59,148.36 884.86,153.62 886.14,158.49 887.41,163.21 888.68,167.67 889.95,171.72 891.22,175.26 892.50,178.40 893.77,181.25 895.04,183.90 896.31,186.42 897.58,188.79 898.86,191.01 900.13,193.13 901.40,195.19 902.67,197.24 903.94,199.26 905.22,201.16 906.49,202.88 907.76,204.41 909.03,205.81 910.30,207.11 911.58,208.33 912.85,209.51 914.12,210.64 915.39,211.72 916.66,212.75 917.94,213.74 919.21,214.68 920.48,215.57 921.75,216.44 923.02,217.29 924.30,218.11 925.57,218.91 926.84,219.69 928.11,220.44 929.38,221.17 930.66,221.88 931.93,222.57 933.20,223.23 934.47,223.88 935.74,224.50 937.02,225.10 938.29,225.69 939.56,226.26 940.83,226.82 942.10,227.37 943.38,227.90 944.65,228.42 945.92,228.94 947.19,229.45 948.46,229.95 949.74,230.45 951.01,230.94 952.28,231.42 953.55,231.89 954.82,232.35 956.10,232.79 957.37,233.22 958.64,233.62 959.91,234.00 961.18,234.37 962.46,234.72 963.73,235.07 965.00,235.40 966.27,235.72 967.54,236.04 968.82,236.33 970.09,236.62 971.36,236.88 972.63,237.14 973.90,237.37 975.18,237.59 976.45,237.79 977.72,237.97 978.99,238.15 980.26,238.32 981.54,238.49 982.81,238.67 984.08,238.85 985.35,239.05 986.62,239.26 987.90,239.49 989.17,239.74 990.44,240.01 991.71,240.28 992.98,240.57 994.26,240.85 995.53,241.13 996.80,241.40 998.07,241.66 999.34,241.90 1000.62,242.12 1001.89,242.33 1003.16,242.53 1004.43,242.73 1005.70,242.92 1006.98,243.10 1008.25,243.28 1009.52,243.46 1010.79,243.64 1012.06,243.83 1013.34,244.02 1014.61,244.21 1015.88,244.41 1017.15,244.61 1018.42,244.81 1019.70,245.01 1020.97,245.21 1022.24,245.41 1023.51,245.59 1024.78,245.77 1026.06,245.94 1027.33,246.10 1028.60,246.25 1029.87,246.40 1031.14,246.54 1032.42,246.68 1033.69,246.81 1034.96,246.94 1036.23,247.06 1037.50,247.17 1038.78,247.27 1040.05,247.37 1041.32,247.46 1042.59,247.54 1043.86,247.62 1045.14,247.70 1046.41,247.78 1047.68,247.85 1048.95,247.92 1050.22,247.99 1051.50,248.05 1052.77,248.12 1054.04,248.18 1055.31,248.25 1056.58,248.32 1057.86,248.38 1059.13,248.45 1060.40,248.52 1061.67,248.60 1062.94,248.67 1064.22,248.74 1065.49,248.81 1066.76,248.88 1068.03,248.95 1069.30,249.01 1070.58,249.08 1071.85,249.15 1073.12,249.22 1074.39,249.29 1075.66,249.36 1076.94,249.43 1078.21,249.49 1079.48,249.56 1080.75,249.63 1082.02,249.70 1083.30,249.77 1084.57,249.84 1085.84,249.91 1087.11,249.98 1088.38,250.06 1089.66,250.13 1090.93,250.20 1092.20,250.28 1093.47,250.35 1094.74,250.43 1096.02,250.50 1097.29,250.58 1098.56,250.66 1099.83,250.73 1101.10,250.81 1102.38,250.89 1103.65,250.97 1104.92,251.05 1106.19,251.13 1107.46,251.21 1108.74,251.29 1110.01,251.37 1111.28,251.45 1112.55,251.53 1113.82,251.61 1115.10,251.69 1116.37,251.78 1117.64,251.86 1118.91,251.94 1120.18,252.03 1121.46,252.11 1122.73,252.20 1124.00,252.28" fill="none" stroke="#2d6bb4" stroke-width="1.3"/>
<circle cx="870.87" cy="29.42" r="3.85" fill="url(#sbc)"/>
<circle cx="872.14" cy="49.96" r="3.85" fill="url(#sbc)"/>
<circle cx="873.42" cy="64.73" r="3.85" fill="url(#sbc)"/>
<circle cx="874.69" cy="80.76" r="3.85" fill="url(#sbc)"/>
<circle cx="875.96" cy="94.78" r="3.85" fill="url(#sbc)"/>
<circle cx="877.23" cy="106.55" r="3.85" fill="url(#sbc)"/>
<circle cx="878.50" cy="116.56" r="3.85" fill="url(#sbc)"/>
<circle cx="879.78" cy="126.33" r="3.85" fill="url(#sbc)"/>
<circle cx="881.05" cy="134.59" r="3.85" fill="url(#sbc)"/>
<circle cx="882.32" cy="142.35" r="3.85" fill="url(#sbc)"/>
<circle cx="883.59" cy="148.36" r="3.85" fill="url(#sbc)"/>
<circle cx="884.86" cy="153.62" r="3.85" fill="url(#sbc)"/>
<circle cx="886.14" cy="158.49" r="3.85" fill="url(#sbc)"/>
<circle cx="887.41" cy="163.21" r="3.85" fill="url(#sbc)"/>
<circle cx="888.68" cy="167.67" r="3.85" fill="url(#sbc)"/>
<circle cx="889.95" cy="171.72" r="3.85" fill="url(#sbc)"/>
<circle cx="891.22" cy="175.26" r="3.85" fill="url(#sbc)"/>
<circle cx="892.50" cy="178.40" r="3.85" fill="url(#sbc)"/>
<circle cx="893.77" cy="181.25" r="3.85" fill="url(#sbc)"/>
<circle cx="895.04" cy="183.90" r="3.85" fill="url(#sbc)"/>
<circle cx="896.31" cy="186.42" r="3.85" fill="url(#sbc)"/>
<circle cx="897.58" cy="188.79" r="3.85" fill="url(#sbc)"/>
<circle cx="898.86" cy="191.01" r="3.85" fill="url(#sbc)"/>
<circle cx="900.13" cy="193.13" r="3.85" fill="url(#sbc)"/>
<circle cx="901.40" cy="195.19" r="3.85" fill="url(#sbc)"/>
<circle cx="902.67" cy="197.24" r="3.85" fill="url(#sbc)"/>
<circle cx="903.94" cy="199.26" r="3.85" fill="url(#sbc)"/>
<circle cx="905.22" cy="201.16" r="3.85" fill="url(#sbc)"/>
<circle cx="906.49" cy="202.88" r="3.85" fill="url(#sbc)"/>
<circle cx="907.76" cy="204.41" r="3.85" fill="url(#sbc)"/>
<circle cx="909.03" cy="205.81" r="3.85" fill="url(#sbc)"/>
<circle cx="910.30" cy="207.11" r="3.85" fill="url(#sbc)"/>
<circle cx="911.58" cy="208.33" r="3.85" fill="url(#sbc)"/>
<circle cx="912.85" cy="209.51" r="3.85" fill="url(#sbc)"/>
<circle cx="914.12" cy="210.64" r="3.85" fill="url(#sbc)"/>
<circle cx="915.39" cy="211.72" r="3.85" fill="url(#sbc)"/>
<circle cx="916.66" cy="212.75" r="3.85" fill="url(#sbc)"/>
<circle cx="917.94" cy="213.74" r="3.85" fill="url(#sbc)"/>
<circle cx="919.21" cy="214.68" r="3.85" fill="url(#sbc)"/>
<circle cx="920.48" cy="215.57" r="3.85" fill="url(#sbc)"/>
<circle cx="921.75" cy="216.44" r="3.85" fill="url(#sbc)"/>
<circle cx="923.02" cy="217.29" r="3.85" fill="url(#sbc)"/>
<circle cx="924.30" cy="218.11" r="3.85" fill="url(#sbc)"/>
<circle cx="925.57" cy="218.91" r="3.85" fill="url(#sbc)"/>
<circle cx="926.84" cy="219.69" r="3.85" fill="url(#sbc)"/>
<circle cx="928.11" cy="220.44" r="3.85" fill="url(#sbc)"/>
<circle cx="929.38" cy="221.17" r="3.85" fill="url(#sbc)"/>
<circle cx="930.66" cy="221.88" r="3.85" fill="url(#sbc)"/>
<circle cx="931.93" cy="222.57" r="3.85" fill="url(#sbc)"/>
<circle cx="933.20" cy="223.23" r="3.85" fill="url(#sbc)"/>
<circle cx="934.47" cy="223.88" r="3.85" fill="url(#sbc)"/>
<circle cx="935.74" cy="224.50" r="3.85" fill="url(#sbc)"/>
<circle cx="937.02" cy="225.10" r="3.85" fill="url(#sbc)"/>
<circle cx="938.29" cy="225.69" r="3.85" fill="url(#sbc)"/>
<circle cx="939.56" cy="226.26" r="3.85" fill="url(#sbc)"/>
<circle cx="940.83" cy="226.82" r="3.85" fill="url(#sbc)"/>
<circle cx="942.10" cy="227.37" r="3.85" fill="url(#sbc)"/>
<circle cx="943.38" cy="227.90" r="3.85" fill="url(#sbc)"/>
<circle cx="944.65" cy="228.42" r="3.85" fill="url(#sbc)"/>
<circle cx="945.92" cy="228.94" r="3.85" fill="url(#sbc)"/>
<circle cx="947.19" cy="229.45" r="3.85" fill="url(#sbc)"/>
<circle cx="948.46" cy="229.95" r="3.85" fill="url(#sbc)"/>
<circle cx="949.74" cy="230.45" r="3.85" fill="url(#sbc)"/>
<circle cx="951.01" cy="230.94" r="3.85" fill="url(#sbc)"/>
<circle cx="952.28" cy="231.42" r="3.85" fill="url(#sbc)"/>
<circle cx="953.55" cy="231.89" r="3.85" fill="url(#sbc)"/>
<circle cx="954.82" cy="232.35" r="3.85" fill="url(#sbc)"/>
<circle cx="956.10" cy="232.79" r="3.85" fill="url(#sbc)"/>
<circle cx="957.37" cy="233.22" r="3.85" fill="url(#sbc)"/>
<circle cx="958.64" cy="233.62" r="3.85" fill="url(#sbc)"/>
<circle cx="959.91" cy="234.00" r="3.85" fill="url(#sbc)"/>
<circle cx="961.18" cy="234.37" r="3.85" fill="url(#sbc)"/>
<circle cx="962.46" cy="234.72" r="3.85" fill="url(#sbc)"/>
<circle cx="963.73" cy="235.07" r="3.85" fill="url(#sbc)"/>
<circle cx="965.00" cy="235.40" r="3.85" fill="url(#sbc)"/>
<circle cx="966.27" cy="235.72" r="3.85" fill="url(#sbc)"/>
<circle cx="967.54" cy="236.04" r="3.85" fill="url(#sbc)"/>
<circle cx="968.82" cy="236.33" r="3.85" fill="url(#sbc)"/>
<circle cx="970.09" cy="236.62" r="3.85" fill="url(#sbc)"/>
<circle cx="971.36" cy="236.88" r="3.85" fill="url(#sbc)"/>
<circle cx="972.63" cy="237.14" r="3.85" fill="url(#sbc)"/>
<circle cx="973.90" cy="237.37" r="3.85" fill="url(#sbc)"/>
<circle cx="975.18" cy="237.59" r="3.85" fill="url(#sbc)"/>
<circle cx="976.45" cy="237.79" r="3.85" fill="url(#sbc)"/>
<circle cx="977.72" cy="237.97" r="3.85" fill="url(#sbc)"/>
<circle cx="978.99" cy="238.15" r="3.85" fill="url(#sbc)"/>
<circle cx="980.26" cy="238.32" r="3.85" fill="url(#sbc)"/>
<circle cx="981.54" cy="238.49" r="3.85" fill="url(#sbc)"/>
<circle cx="982.81" cy="238.67" r="3.85" fill="url(#sbc)"/>
<circle cx="984.08" cy="238.85" r="3.85" fill="url(#sbc)"/>
<circle cx="985.35" cy="239.05" r="3.85" fill="url(#sbc)"/>
<circle cx="986.62" cy="239.26" r="3.85" fill="url(#sbc)"/>
<circle cx="987.90" cy="239.49" r="3.85" fill="url(#sbc)"/>
<circle cx="989.17" cy="239.74" r="3.85" fill="url(#sbc)"/>
<circle cx="990.44" cy="240.01" r="3.85" fill="url(#sbc)"/>
<circle cx="991.71" cy="240.28" r="3.85" fill="url(#sbc)"/>
<circle cx="992.98" cy="240.57" r="3.85" fill="url(#sbc)"/>
<circle cx="994.26" cy="240.85" r="3.85" fill="url(#sbc)"/>
<circle cx="995.53" cy="241.13" r="3.85" fill="url(#sbc)"/>
<circle cx="996.80" cy="241.40" r="3.85" fill="url(#sbc)"/>
<circle cx="998.07" cy="241.66" r="3.85" fill="url(#sbc)"/>
<circle cx="999.34" cy="241.90" r="3.85" fill="url(#sbc)"/>
<circle cx="1000.62" cy="242.12" r="3.85" fill="url(#sbc)"/>
<circle cx="1001.89" cy="242.33" r="3.85" fill="url(#sbc)"/>
<circle cx="1003.16" cy="242.53" r="3.85" fill="url(#sbc)"/>
<circle cx="1004.43" cy="242.73" r="3.85" fill="url(#sbc)"/>
<circle cx="1005.70" cy="242.92" r="3.85" fill="url(#sbc)"/>
<circle cx="1006.98" cy="243.10" r="3.85" fill="url(#sbc)"/>
<circle cx="1008.25" cy="243.28" r="3.85" fill="url(#sbc)"/>
<circle cx="1009.52" cy="243.46" r="3.85" fill="url(#sbc)"/>
<circle cx="1010.79" cy="243.64" r="3.85" fill="url(#sbc)"/>
<circle cx="1012.06" cy="243.83" r="3.85" fill="url(#sbc)"/>
<circle cx="1013.34" cy="244.02" r="3.85" fill="url(#sbc)"/>
<circle cx="1014.61" cy="244.21" r="3.85" fill="url(#sbc)"/>
<circle cx="1015.88" cy="244.41" r="3.85" fill="url(#sbc)"/>
<circle cx="1017.15" cy="244.61" r="3.85" fill="url(#sbc)"/>
<circle cx="1018.42" cy="244.81" r="3.85" fill="url(#sbc)"/>
<circle cx="1019.70" cy="245.01" r="3.85" fill="url(#sbc)"/>
<circle cx="1020.97" cy="245.21" r="3.85" fill="url(#sbc)"/>
<circle cx="1022.24" cy="245.41" r="3.85" fill="url(#sbc)"/>
<circle cx="1023.51" cy="245.59" r="3.85" fill="url(#sbc)"/>
<circle cx="1024.78" cy="245.77" r="3.85" fill="url(#sbc)"/>
<circle cx="1026.06" cy="245.94" r="3.85" fill="url(#sbc)"/>
<circle cx="1027.33" cy="246.10" r="3.85" fill="url(#sbc)"/>
<circle cx="1028.60" cy="246.25" r="3.85" fill="url(#sbc)"/>
<circle cx="1029.87" cy="246.40" r="3.85" fill="url(#sbc)"/>
<circle cx="1031.14" cy="246.54" r="3.85" fill="url(#sbc)"/>
<circle cx="1032.42" cy="246.68" r="3.85" fill="url(#sbc)"/>
<circle cx="1033.69" cy="246.81" r="3.85" fill="url(#sbc)"/>
<circle cx="1034.96" cy="246.94" r="3.85" fill="url(#sbc)"/>
<circle cx="1036.23" cy="247.06" r="3.85" fill="url(#sbc)"/>
<circle cx="1037.50" cy="247.17" r="3.85" fill="url(#sbc)"/>
<circle cx="1038.78" cy="247.27" r="3.85" fill="url(#sbc)"/>
<circle cx="1040.05" cy="247.37" r="3.85" fill="url(#sbc)"/>
<circle cx="1041.32" cy="247.46" r="3.85" fill="url(#sbc)"/>
<circle cx="1042.59" cy="247.54" r="3.85" fill="url(#sbc)"/>
<circle cx="1043.86" cy="247.62" r="3.85" fill="url(#sbc)"/>
<circle cx="1045.14" cy="247.70" r="3.85" fill="url(#sbc)"/>
<circle cx="1046.41" cy="247.78" r="3.85" fill="url(#sbc)"/>
<circle cx="1047.68" cy="247.85" r="3.85" fill="url(#sbc)"/>
<circle cx="1048.95" cy="247.92" r="3.85" fill="url(#sbc)"/>
<circle cx="1050.22" cy="247.99" r="3.85" fill="url(#sbc)"/>
<circle cx="1051.50" cy="248.05" r="3.85" fill="url(#sbc)"/>
<circle cx="1052.77" cy="248.12" r="3.85" fill="url(#sbc)"/>
<circle cx="1054.04" cy="248.18" r="3.85" fill="url(#sbc)"/>
<circle cx="1055.31" cy="248.25" r="3.85" fill="url(#sbc)"/>
<circle cx="1056.58" cy="248.32" r="3.85" fill="url(#sbc)"/>
<circle cx="1057.86" cy="248.38" r="3.85" fill="url(#sbc)"/>
<circle cx="1059.13" cy="248.45" r="3.85" fill="url(#sbc)"/>
<circle cx="1060.40" cy="248.52" r="3.85" fill="url(#sbc)"/>
<circle cx="1061.67" cy="248.60" r="3.85" fill="url(#sbc)"/>
<circle cx="1062.94" cy="248.67" r="3.85" fill="url(#sbc)"/>
<circle cx="1064.22" cy="248.74" r="3.85" fill="url(#sbc)"/>
<circle cx="1065.49" cy="248.81" r="3.85" fill="url(#sbc)"/>
<circle cx="1066.76" cy="248.88" r="3.85" fill="url(#sbc)"/>
<circle cx="1068.03" cy="248.95" r="3.85" fill="url(#sbc)"/>
<circle cx="1069.30" cy="249.01" r="3.85" fill="url(#sbc)"/>
<circle cx="1070.58" cy="249.08" r="3.85" fill="url(#sbc)"/>
<circle cx="1071.85" cy="249.15" r="3.85" fill="url(#sbc)"/>
<circle cx="1073.12" cy="249.22" r="3.85" fill="url(#sbc)"/>
<circle cx="1074.39" cy="249.29" r="3.85" fill="url(#sbc)"/>
<circle cx="1075.66" cy="249.36" r="3.85" fill="url(#sbc)"/>
<circle cx="1076.94" cy="249.43" r="3.85" fill="url(#sbc)"/>
<circle cx="1078.21" cy="249.49" r="3.85" fill="url(#sbc)"/>
<circle cx="1079.48" cy="249.56" r="3.85" fill="url(#sbc)"/>
<circle cx="1080.75" cy="249.63" r="3.85" fill="url(#sbc)"/>
<circle cx="1082.02" cy="249.70" r="3.85" fill="url(#sbc)"/>
<circle cx="1083.30" cy="249.77" r="3.85" fill="url(#sbc)"/>
<circle cx="1084.57" cy="249.84" r="3.85" fill="url(#sbc)"/>
<circle cx="1085.84" cy="249.91" r="3.85" fill="url(#sbc)"/>
<circle cx="1087.11" cy="249.98" r="3.85" fill="url(#sbc)"/>
<circle cx="1088.38" cy="250.06" r="3.85" fill="url(#sbc)"/>
<circle cx="1089.66" cy="250.13" r="3.85" fill="url(#sbc)"/>
<circle cx="1090.93" cy="250.20" r="3.85" fill="url(#sbc)"/>
<circle cx="1092.20" cy="250.28" r="3.85" fill="url(#sbc)"/>
<circle cx="1093.47" cy="250.35" r="3.85" fill="url(#sbc)"/>
<circle cx="1094.74" cy="250.43" r="3.85" fill="url(#sbc)"/>
<circle cx="1096.02" cy="250.50" r="3.85" fill="url(#sbc)"/>
<circle cx="1097.29" cy="250.58" r="3.85" fill="url(#sbc)"/>
<circle cx="1098.56" cy="250.66" r="3.85" fill="url(#sbc)"/>
<circle cx="1099.83" cy="250.73" r="3.85" fill="url(#sbc)"/>
<circle cx="1101.10" cy="250.81" r="3.85" fill="url(#sbc)"/>
<circle cx="1102.38" cy="250.89" r="3.85" fill="url(#sbc)"/>
<circle cx="1103.65" cy="250.97" r="3.85" fill="url(#sbc)"/>
<circle cx="1104.92" cy="251.05" r="3.85" fill="url(#sbc)"/>
<circle cx="1106.19" cy="251.13" r="3.85" fill="url(#sbc)"/>
<circle cx="1107.46" cy="251.21" r="3.85" fill="url(#sbc)"/>
<circle cx="1108.74" cy="251.29" r="3.85" fill="url(#sbc)"/>
<circle cx="1110.01" cy="251.37" r="3.85" fill="url(#sbc)"/>
<circle cx="1111.28" cy="251.45" r="3.85" fill="url(#sbc)"/>
<circle cx="1112.55" cy="251.53" r="3.85" fill="url(#sbc)"/>
<circle cx="1113.82" cy="251.61" r="3.85" fill="url(#sbc)"/>
<circle cx="1115.10" cy="251.69" r="3.85" fill="url(#sbc)"/>
<circle cx="1116.37" cy="251.78" r="3.85" fill="url(#sbc)"/>
<circle cx="1117.64" cy="251.86" r="3.85" fill="url(#sbc)"/>
<circle cx="1118.91" cy="251.94" r="3.85" fill="url(#sbc)"/>
<circle cx="1120.18" cy="252.03" r="3.85" fill="url(#sbc)"/>
<circle cx="1121.46" cy="252.11" r="3.85" fill="url(#sbc)"/>
<circle cx="1122.73" cy="252.20" r="3.85" fill="url(#sbc)"/>
<circle cx="1124.00" cy="252.28" r="3.85" fill="url(#sbc)"/>
<g opacity="0.45" fill="#ffffff">
<circle cx="870.29" cy="28.46" r="1.46"/>
<circle cx="871.57" cy="48.99" r="1.46"/>
<circle cx="872.84" cy="63.77" r="1.46"/>
<circle cx="874.11" cy="79.79" r="1.46"/>
<circle cx="875.38" cy="93.82" r="1.46"/>
<circle cx="876.65" cy="105.58" r="1.46"/>
<circle cx="877.93" cy="115.60" r="1.46"/>
<circle cx="879.20" cy="125.37" r="1.46"/>
<circle cx="880.47" cy="133.63" r="1.46"/>
<circle cx="881.74" cy="141.39" r="1.46"/>
<circle cx="883.01" cy="147.40" r="1.46"/>
<circle cx="884.29" cy="152.66" r="1.46"/>
<circle cx="885.56" cy="157.52" r="1.46"/>
<circle cx="886.83" cy="162.25" r="1.46"/>
<circle cx="888.10" cy="166.71" r="1.46"/>
<circle cx="889.37" cy="170.76" r="1.46"/>
<circle cx="890.65" cy="174.30" r="1.46"/>
<circle cx="891.92" cy="177.44" r="1.46"/>
<circle cx="893.19" cy="180.29" r="1.46"/>
<circle cx="894.46" cy="182.94" r="1.46"/>
<circle cx="895.73" cy="185.46" r="1.46"/>
<circle cx="897.01" cy="187.82" r="1.46"/>
<circle cx="898.28" cy="190.04" r="1.46"/>
<circle cx="899.55" cy="192.16" r="1.46"/>
<circle cx="900.82" cy="194.23" r="1.46"/>
<circle cx="902.09" cy="196.28" r="1.46"/>
<circle cx="903.37" cy="198.29" r="1.46"/>
<circle cx="904.64" cy="200.20" r="1.46"/>
<circle cx="905.91" cy="201.92" r="1.46"/>
<circle cx="907.18" cy="203.44" r="1.46"/>
<circle cx="908.45" cy="204.84" r="1.46"/>
<circle cx="909.73" cy="206.15" r="1.46"/>
<circle cx="911.00" cy="207.37" r="1.46"/>
<circle cx="912.27" cy="208.54" r="1.46"/>
<circle cx="913.54" cy="209.67" r="1.46"/>
<circle cx="914.81" cy="210.76" r="1.46"/>
<circle cx="916.09" cy="211.79" r="1.46"/>
<circle cx="917.36" cy="212.78" r="1.46"/>
<circle cx="918.63" cy="213.72" r="1.46"/>
<circle cx="919.90" cy="214.61" r="1.46"/>
<circle cx="921.17" cy="215.48" r="1.46"/>
<circle cx="922.45" cy="216.32" r="1.46"/>
<circle cx="923.72" cy="217.15" r="1.46"/>
<circle cx="924.99" cy="217.95" r="1.46"/>
<circle cx="926.26" cy="218.72" r="1.46"/>
<circle cx="927.53" cy="219.48" r="1.46"/>
<circle cx="928.81" cy="220.21" r="1.46"/>
<circle cx="930.08" cy="220.92" r="1.46"/>
<circle cx="931.35" cy="221.61" r="1.46"/>
<circle cx="932.62" cy="222.27" r="1.46"/>
<circle cx="933.89" cy="222.91" r="1.46"/>
<circle cx="935.17" cy="223.54" r="1.46"/>
<circle cx="936.44" cy="224.14" r="1.46"/>
<circle cx="937.71" cy="224.73" r="1.46"/>
<circle cx="938.98" cy="225.30" r="1.46"/>
<circle cx="940.25" cy="225.86" r="1.46"/>
<circle cx="941.53" cy="226.41" r="1.46"/>
<circle cx="942.80" cy="226.94" r="1.46"/>
<circle cx="944.07" cy="227.46" r="1.46"/>
<circle cx="945.34" cy="227.98" r="1.46"/>
<circle cx="946.61" cy="228.48" r="1.46"/>
<circle cx="947.89" cy="228.99" r="1.46"/>
<circle cx="949.16" cy="229.49" r="1.46"/>
<circle cx="950.43" cy="229.98" r="1.46"/>
<circle cx="951.70" cy="230.46" r="1.46"/>
<circle cx="952.97" cy="230.93" r="1.46"/>
<circle cx="954.25" cy="231.39" r="1.46"/>
<circle cx="955.52" cy="231.83" r="1.46"/>
<circle cx="956.79" cy="232.25" r="1.46"/>
<circle cx="958.06" cy="232.66" r="1.46"/>
<circle cx="959.33" cy="233.04" r="1.46"/>
<circle cx="960.61" cy="233.40" r="1.46"/>
<circle cx="961.88" cy="233.76" r="1.46"/>
<circle cx="963.15" cy="234.10" r="1.46"/>
<circle cx="964.42" cy="234.44" r="1.46"/>
<circle cx="965.69" cy="234.76" r="1.46"/>
<circle cx="966.97" cy="235.07" r="1.46"/>
<circle cx="968.24" cy="235.37" r="1.46"/>
<circle cx="969.51" cy="235.65" r="1.46"/>
<circle cx="970.78" cy="235.92" r="1.46"/>
<circle cx="972.05" cy="236.17" r="1.46"/>
<circle cx="973.33" cy="236.41" r="1.46"/>
<circle cx="974.60" cy="236.62" r="1.46"/>
<circle cx="975.87" cy="236.82" r="1.46"/>
<circle cx="977.14" cy="237.01" r="1.46"/>
<circle cx="978.41" cy="237.19" r="1.46"/>
<circle cx="979.69" cy="237.36" r="1.46"/>
<circle cx="980.96" cy="237.53" r="1.46"/>
<circle cx="982.23" cy="237.71" r="1.46"/>
<circle cx="983.50" cy="237.89" r="1.46"/>
<circle cx="984.77" cy="238.09" r="1.46"/>
<circle cx="986.05" cy="238.30" r="1.46"/>
<circle cx="987.32" cy="238.53" r="1.46"/>
<circle cx="988.59" cy="238.78" r="1.46"/>
<circle cx="989.86" cy="239.05" r="1.46"/>
<circle cx="991.13" cy="239.32" r="1.46"/>
<circle cx="992.41" cy="239.60" r="1.46"/>
<circle cx="993.68" cy="239.89" r="1.46"/>
<circle cx="994.95" cy="240.17" r="1.46"/>
<circle cx="996.22" cy="240.44" r="1.46"/>
<circle cx="997.49" cy="240.70" r="1.46"/>
<circle cx="998.77" cy="240.94" r="1.46"/>
<circle cx="1000.04" cy="241.16" r="1.46"/>
<circle cx="1001.31" cy="241.37" r="1.46"/>
<circle cx="1002.58" cy="241.57" r="1.46"/>
<circle cx="1003.85" cy="241.77" r="1.46"/>
<circle cx="1005.13" cy="241.95" r="1.46"/>
<circle cx="1006.40" cy="242.14" r="1.46"/>
<circle cx="1007.67" cy="242.32" r="1.46"/>
<circle cx="1008.94" cy="242.50" r="1.46"/>
<circle cx="1010.21" cy="242.68" r="1.46"/>
<circle cx="1011.49" cy="242.87" r="1.46"/>
<circle cx="1012.76" cy="243.05" r="1.46"/>
<circle cx="1014.03" cy="243.25" r="1.46"/>
<circle cx="1015.30" cy="243.45" r="1.46"/>
<circle cx="1016.57" cy="243.65" r="1.46"/>
<circle cx="1017.85" cy="243.85" r="1.46"/>
<circle cx="1019.12" cy="244.05" r="1.46"/>
<circle cx="1020.39" cy="244.25" r="1.46"/>
<circle cx="1021.66" cy="244.44" r="1.46"/>
<circle cx="1022.93" cy="244.63" r="1.46"/>
<circle cx="1024.21" cy="244.81" r="1.46"/>
<circle cx="1025.48" cy="244.98" r="1.46"/>
<circle cx="1026.75" cy="245.13" r="1.46"/>
<circle cx="1028.02" cy="245.29" r="1.46"/>
<circle cx="1029.29" cy="245.44" r="1.46"/>
<circle cx="1030.57" cy="245.58" r="1.46"/>
<circle cx="1031.84" cy="245.72" r="1.46"/>
<circle cx="1033.11" cy="245.85" r="1.46"/>
<circle cx="1034.38" cy="245.98" r="1.46"/>
<circle cx="1035.65" cy="246.10" r="1.46"/>
<circle cx="1036.93" cy="246.21" r="1.46"/>
<circle cx="1038.20" cy="246.31" r="1.46"/>
<circle cx="1039.47" cy="246.40" r="1.46"/>
<circle cx="1040.74" cy="246.49" r="1.46"/>
<circle cx="1042.01" cy="246.58" r="1.46"/>
<circle cx="1043.29" cy="246.66" r="1.46"/>
<circle cx="1044.56" cy="246.74" r="1.46"/>
<circle cx="1045.83" cy="246.81" r="1.46"/>
<circle cx="1047.10" cy="246.88" r="1.46"/>
<circle cx="1048.37" cy="246.95" r="1.46"/>
<circle cx="1049.65" cy="247.02" r="1.46"/>
<circle cx="1050.92" cy="247.09" r="1.46"/>
<circle cx="1052.19" cy="247.16" r="1.46"/>
<circle cx="1053.46" cy="247.22" r="1.46"/>
<circle cx="1054.73" cy="247.29" r="1.46"/>
<circle cx="1056.01" cy="247.35" r="1.46"/>
<circle cx="1057.28" cy="247.42" r="1.46"/>
<circle cx="1058.55" cy="247.49" r="1.46"/>
<circle cx="1059.82" cy="247.56" r="1.46"/>
<circle cx="1061.09" cy="247.63" r="1.46"/>
<circle cx="1062.37" cy="247.70" r="1.46"/>
<circle cx="1063.64" cy="247.77" r="1.46"/>
<circle cx="1064.91" cy="247.84" r="1.46"/>
<circle cx="1066.18" cy="247.91" r="1.46"/>
<circle cx="1067.45" cy="247.98" r="1.46"/>
<circle cx="1068.73" cy="248.05" r="1.46"/>
<circle cx="1070.00" cy="248.12" r="1.46"/>
<circle cx="1071.27" cy="248.19" r="1.46"/>
<circle cx="1072.54" cy="248.26" r="1.46"/>
<circle cx="1073.81" cy="248.33" r="1.46"/>
<circle cx="1075.09" cy="248.39" r="1.46"/>
<circle cx="1076.36" cy="248.46" r="1.46"/>
<circle cx="1077.63" cy="248.53" r="1.46"/>
<circle cx="1078.90" cy="248.60" r="1.46"/>
<circle cx="1080.17" cy="248.67" r="1.46"/>
<circle cx="1081.45" cy="248.74" r="1.46"/>
<circle cx="1082.72" cy="248.81" r="1.46"/>
<circle cx="1083.99" cy="248.88" r="1.46"/>
<circle cx="1085.26" cy="248.95" r="1.46"/>
<circle cx="1086.53" cy="249.02" r="1.46"/>
<circle cx="1087.81" cy="249.09" r="1.46"/>
<circle cx="1089.08" cy="249.17" r="1.46"/>
<circle cx="1090.35" cy="249.24" r="1.46"/>
<circle cx="1091.62" cy="249.31" r="1.46"/>
<circle cx="1092.89" cy="249.39" r="1.46"/>
<circle cx="1094.17" cy="249.46" r="1.46"/>
<circle cx="1095.44" cy="249.54" r="1.46"/>
<circle cx="1096.71" cy="249.62" r="1.46"/>
<circle cx="1097.98" cy="249.69" r="1.46"/>
<circle cx="1099.25" cy="249.77" r="1.46"/>
<circle cx="1100.53" cy="249.85" r="1.46"/>
<circle cx="1101.80" cy="249.93" r="1.46"/>
<circle cx="1103.07" cy="250.01" r="1.46"/>
<circle cx="1104.34" cy="250.08" r="1.46"/>
<circle cx="1105.61" cy="250.16" r="1.46"/>
<circle cx="1106.89" cy="250.24" r="1.46"/>
<circle cx="1108.16" cy="250.32" r="1.46"/>
<circle cx="1109.43" cy="250.40" r="1.46"/>
<circle cx="1110.70" cy="250.49" r="1.46"/>
<circle cx="1111.97" cy="250.57" r="1.46"/>
<circle cx="1113.25" cy="250.65" r="1.46"/>
<circle cx="1114.52" cy="250.73" r="1.46"/>
<circle cx="1115.79" cy="250.81" r="1.46"/>
<circle cx="1117.06" cy="250.90" r="1.46"/>
<circle cx="1118.33" cy="250.98" r="1.46"/>
<circle cx="1119.61" cy="251.06" r="1.46"/>
<circle cx="1120.88" cy="251.15" r="1.46"/>
<circle cx="1122.15" cy="251.23" r="1.46"/>
<circle cx="1123.42" cy="251.32" r="1.46"/>
</g>
<line x1="944.60" y1="85.00" x2="974.70" y2="85.00" stroke="#e03c3c" stroke-width="1.4"/>
<circle cx="959.7" cy="85" r="3" fill="url(#sr)"/>
<text x="982.45" y="90.00" font-size="15.7" fill="#e03c3c" textLength="114.17" lengthAdjust="spacingAndGlyphs">Device accuracy</text>
<text x="938.04" y="108.70" font-size="15.7" fill="#e03c3c" textLength="159.25" lengthAdjust="spacingAndGlyphs">Max accuracy = 90.7%</text>
<line x1="945.70" y1="158.80" x2="974.70" y2="158.80" stroke="#2d6bb4" stroke-width="1.4"/>
<circle cx="960.5" cy="158.8" r="3.2" fill="url(#sb)"/>
<text x="982.44" y="163.40" font-size="15.7" fill="#2d6bb4" textLength="80.78" lengthAdjust="spacingAndGlyphs">Device loss</text>
<text x="938.44" y="182.50" font-size="15.7" fill="#2d6bb4" textLength="124.79" lengthAdjust="spacingAndGlyphs">Last loss = 4.97%</text>
<line x1="863.90" y1="14.40" x2="1130.60" y2="14.40" stroke="#111" stroke-width="1.6"/>
<line x1="863.90" y1="264.80" x2="1130.60" y2="264.80" stroke="#111" stroke-width="1.6"/>
<line x1="863.90" y1="13.60" x2="863.90" y2="265.60" stroke="#cf5468" stroke-width="1.5"/>
<line x1="1130.60" y1="13.60" x2="1130.60" y2="265.60" stroke="#2a5f98" stroke-width="1.5"/>
<line x1="869.60" y1="264.80" x2="869.60" y2="259.80" stroke="#111" stroke-width="1.5"/>
<text x="869.60" y="287.50" font-size="18" fill="#231f20" text-anchor="middle">0</text>
<line x1="895.04" y1="264.80" x2="895.04" y2="261.80" stroke="#111" stroke-width="1.5"/>
<line x1="920.48" y1="264.80" x2="920.48" y2="259.80" stroke="#111" stroke-width="1.5"/>
<text x="920.48" y="287.50" font-size="18" fill="#231f20" text-anchor="middle">40</text>
<line x1="945.92" y1="264.80" x2="945.92" y2="261.80" stroke="#111" stroke-width="1.5"/>
<line x1="971.36" y1="264.80" x2="971.36" y2="259.80" stroke="#111" stroke-width="1.5"/>
<text x="971.36" y="287.50" font-size="18" fill="#231f20" text-anchor="middle">80</text>
<line x1="996.80" y1="264.80" x2="996.80" y2="261.80" stroke="#111" stroke-width="1.5"/>
<line x1="1022.24" y1="264.80" x2="1022.24" y2="259.80" stroke="#111" stroke-width="1.5"/>
<text x="1022.24" y="287.50" font-size="18" fill="#231f20" text-anchor="middle">120</text>
<line x1="1047.68" y1="264.80" x2="1047.68" y2="261.80" stroke="#111" stroke-width="1.5"/>
<line x1="1073.12" y1="264.80" x2="1073.12" y2="259.80" stroke="#111" stroke-width="1.5"/>
<text x="1073.12" y="287.50" font-size="18" fill="#231f20" text-anchor="middle">160</text>
<line x1="1098.56" y1="264.80" x2="1098.56" y2="261.80" stroke="#111" stroke-width="1.5"/>
<line x1="1124.00" y1="264.80" x2="1124.00" y2="259.80" stroke="#111" stroke-width="1.5"/>
<text x="1124.00" y="287.50" font-size="18" fill="#231f20" text-anchor="middle">200</text>
<line x1="863.15" y1="264.80" x2="869.40" y2="264.80" stroke="#cf5468" stroke-width="1.7"/>
<line x1="1131.35" y1="264.80" x2="1125.10" y2="264.80" stroke="#2a5f98" stroke-width="1.7"/>
<text x="854.50" y="268.90" font-size="18" fill="#e03c3c" text-anchor="end">0</text>
<text x="1138.50" y="268.90" font-size="18" fill="#2d6bb4">0</text>
<line x1="863.15" y1="214.72" x2="869.40" y2="214.72" stroke="#cf5468" stroke-width="1.5"/>
<line x1="1131.35" y1="214.72" x2="1125.10" y2="214.72" stroke="#2a5f98" stroke-width="1.5"/>
<text x="854.50" y="219.50" font-size="18" fill="#e03c3c" text-anchor="end">20</text>
<text x="1138.50" y="219.50" font-size="18" fill="#2d6bb4">20</text>
<line x1="863.15" y1="164.64" x2="869.40" y2="164.64" stroke="#cf5468" stroke-width="1.5"/>
<line x1="1131.35" y1="164.64" x2="1125.10" y2="164.64" stroke="#2a5f98" stroke-width="1.5"/>
<text x="854.50" y="170.10" font-size="18" fill="#e03c3c" text-anchor="end">40</text>
<text x="1138.50" y="170.10" font-size="18" fill="#2d6bb4">40</text>
<line x1="863.15" y1="114.56" x2="869.40" y2="114.56" stroke="#cf5468" stroke-width="1.5"/>
<line x1="1131.35" y1="114.56" x2="1125.10" y2="114.56" stroke="#2a5f98" stroke-width="1.5"/>
<text x="854.50" y="120.70" font-size="18" fill="#e03c3c" text-anchor="end">60</text>
<text x="1138.50" y="120.70" font-size="18" fill="#2d6bb4">60</text>
<line x1="863.15" y1="64.48" x2="869.40" y2="64.48" stroke="#cf5468" stroke-width="1.5"/>
<line x1="1131.35" y1="64.48" x2="1125.10" y2="64.48" stroke="#2a5f98" stroke-width="1.5"/>
<text x="854.50" y="71.30" font-size="18" fill="#e03c3c" text-anchor="end">80</text>
<text x="1138.50" y="71.30" font-size="18" fill="#2d6bb4">80</text>
<line x1="863.15" y1="14.40" x2="869.40" y2="14.40" stroke="#cf5468" stroke-width="1.7"/>
<line x1="1131.35" y1="14.40" x2="1125.10" y2="14.40" stroke="#2a5f98" stroke-width="1.7"/>
<text x="854.50" y="21.90" font-size="18" fill="#e03c3c" text-anchor="end">100</text>
<text x="1138.50" y="21.90" font-size="18" fill="#2d6bb4">100</text>
<text x="997.00" y="318.50" font-size="18" fill="#231f20" text-anchor="middle">Epoch (#)</text>
<text x="810.20" y="139.50" font-size="18" fill="#e03c3c" text-anchor="middle" transform="rotate(-90 810.20 139.50)">Accuracy (%)</text>
<text x="1195.70" y="139.60" font-size="18" fill="#2d6bb4" text-anchor="middle" transform="rotate(-90 1195.70 139.60)">Loss (%)</text>
<rect x="1.0" y="345.4" width="1173.1" height="376.4" rx="41.5" ry="41.5" fill="none" stroke="#231815" stroke-width="1.45"/>
<text x="10.20" y="381.05" font-size="26" fill="#231f20" font-weight="bold">d</text>
<rect x="68.0" y="407.8" width="144.8" height="186.7" fill="#000"/>
<rect x="88.69" y="427.45" width="41.37" height="7.37" fill="#fff"/>
<rect x="88.69" y="434.12" width="51.71" height="7.37" fill="#fff"/>
<rect x="99.03" y="440.79" width="51.71" height="7.37" fill="#fff"/>
<rect x="109.37" y="447.46" width="51.71" height="7.37" fill="#fff"/>
<rect x="119.71" y="454.12" width="46.54" height="7.37" fill="#fff"/>
<rect x="130.06" y="460.79" width="41.37" height="7.37" fill="#fff"/>
<rect x="140.40" y="467.46" width="36.20" height="7.37" fill="#fff"/>
<rect x="155.91" y="474.13" width="20.69" height="7.37" fill="#fff"/>
<rect x="145.57" y="480.80" width="25.86" height="7.37" fill="#fff"/>
<rect x="140.40" y="487.46" width="31.03" height="7.37" fill="#fff"/>
<rect x="135.23" y="494.13" width="31.03" height="7.37" fill="#fff"/>
<rect x="130.06" y="500.80" width="31.03" height="7.37" fill="#fff"/>
<rect x="124.89" y="507.47" width="20.69" height="7.37" fill="#fff"/>
<rect x="124.89" y="514.14" width="20.69" height="7.37" fill="#fff"/>
<rect x="114.54" y="520.80" width="25.86" height="7.37" fill="#fff"/>
<rect x="109.37" y="527.47" width="36.20" height="7.37" fill="#fff"/>
<rect x="150.74" y="527.47" width="10.34" height="7.37" fill="#fff"/>
<rect x="104.20" y="534.14" width="56.89" height="7.37" fill="#fff"/>
<rect x="104.20" y="540.81" width="82.74" height="7.37" fill="#fff"/>
<rect x="109.37" y="547.48" width="82.74" height="7.37" fill="#fff"/>
<rect x="130.06" y="554.14" width="62.06" height="7.37" fill="#fff"/>
<line x1="72.00" y1="410.40" x2="308.00" y2="410.40" stroke="#d81e22" stroke-width="1.35"/>
<path d="M315.00,410.40 L305.00,415.70 L306.50,410.40 L305.00,405.10 Z" fill="#d81e22"/>
<line x1="78.50" y1="410.50" x2="308.29" y2="478.42" stroke="#d81e22" stroke-width="1.35"/>
<path d="M315.00,480.40 L303.91,482.65 L306.85,477.99 L306.91,472.48 Z" fill="#d81e22"/>
<line x1="212.50" y1="593.50" x2="308.06" y2="581.19" stroke="#d81e22" stroke-width="1.35"/>
<path d="M315.00,580.30 L305.76,586.83 L306.57,581.39 L304.40,576.32 Z" fill="#d81e22"/>
<line x1="351.90" y1="410.20" x2="463.42" y2="384.41" stroke="#000" stroke-width="1.3"/>
<path d="M469.90,382.91 L461.65,389.43 L463.23,384.45 L459.63,380.66 Z" fill="#000"/>
<line x1="351.90" y1="410.20" x2="463.48" y2="439.89" stroke="#000" stroke-width="1.3"/>
<path d="M469.91,441.60 L459.57,443.51 L463.30,439.84 L461.89,434.81 Z" fill="#000"/>
<line x1="351.90" y1="410.20" x2="465.18" y2="502.54" stroke="#000" stroke-width="1.3"/>
<path d="M470.33,506.75 L460.13,504.23 L465.03,502.42 L465.81,497.26 Z" fill="#000"/>
<line x1="351.90" y1="410.20" x2="467.77" y2="600.42" stroke="#000" stroke-width="1.3"/>
<path d="M471.23,606.10 L462.44,600.33 L467.67,600.26 L470.13,595.65 Z" fill="#000"/>
<line x1="351.90" y1="480.80" x2="465.13" y2="389.96" stroke="#000" stroke-width="1.3"/>
<path d="M470.32,385.80 L465.73,395.25 L464.98,390.08 L460.09,388.23 Z" fill="#000"/>
<line x1="351.90" y1="480.80" x2="463.57" y2="446.75" stroke="#000" stroke-width="1.3"/>
<path d="M469.93,444.81 L462.15,451.89 L463.38,446.81 L459.53,443.28 Z" fill="#000"/>
<line x1="351.90" y1="480.80" x2="463.44" y2="508.04" stroke="#000" stroke-width="1.3"/>
<path d="M469.90,509.62 L459.60,511.74 L463.26,508.00 L461.74,502.99 Z" fill="#000"/>
<line x1="351.90" y1="480.80" x2="466.06" y2="603.04" stroke="#000" stroke-width="1.3"/>
<path d="M470.60,607.90 L460.83,604.03 L465.93,602.90 L467.41,597.89 Z" fill="#000"/>
<line x1="351.90" y1="580.50" x2="467.68" y2="394.26" stroke="#000" stroke-width="1.3"/>
<path d="M471.19,388.61 L470.00,399.06 L467.58,394.42 L462.35,394.30 Z" fill="#000"/>
<line x1="351.90" y1="580.50" x2="466.20" y2="453.49" stroke="#000" stroke-width="1.3"/>
<path d="M470.65,448.55 L467.64,458.62 L466.07,453.63 L460.95,452.60 Z" fill="#000"/>
<line x1="351.90" y1="580.50" x2="464.30" y2="517.32" stroke="#000" stroke-width="1.3"/>
<path d="M470.10,514.06 L464.02,522.64 L464.14,517.42 L459.61,514.80 Z" fill="#000"/>
<line x1="351.90" y1="580.50" x2="463.48" y2="610.01" stroke="#000" stroke-width="1.3"/>
<path d="M469.91,611.71 L459.57,613.63 L463.30,609.96 L461.87,604.93 Z" fill="#000"/>
<line x1="507.75" y1="381.50" x2="568.10" y2="381.50" stroke="#000" stroke-width="1.3"/>
<path d="M574.40,381.50 L565.40,386.50 L567.92,381.50 L565.40,376.50 Z" fill="#000"/>
<line x1="612.80" y1="381.50" x2="673.60" y2="381.50" stroke="#000" stroke-width="1.3"/>
<path d="M679.90,381.50 L670.90,386.50 L673.42,381.50 L670.90,376.50 Z" fill="#000"/>
<line x1="507.75" y1="446.10" x2="568.10" y2="446.10" stroke="#000" stroke-width="1.3"/>
<path d="M574.40,446.10 L565.40,451.10 L567.92,446.10 L565.40,441.10 Z" fill="#000"/>
<line x1="612.80" y1="446.10" x2="673.60" y2="446.10" stroke="#000" stroke-width="1.3"/>
<path d="M679.90,446.10 L670.90,451.10 L673.42,446.10 L670.90,441.10 Z" fill="#000"/>
<line x1="507.75" y1="511.30" x2="568.10" y2="511.30" stroke="#000" stroke-width="1.3"/>
<path d="M574.40,511.30 L565.40,516.30 L567.92,511.30 L565.40,506.30 Z" fill="#000"/>
<line x1="612.80" y1="511.30" x2="673.60" y2="511.30" stroke="#000" stroke-width="1.3"/>
<path d="M679.90,511.30 L670.90,516.30 L673.42,511.30 L670.90,506.30 Z" fill="#000"/>
<line x1="507.75" y1="613.70" x2="568.10" y2="613.70" stroke="#000" stroke-width="1.3"/>
<path d="M574.40,613.70 L565.40,618.70 L567.92,613.70 L565.40,608.70 Z" fill="#000"/>
<line x1="612.80" y1="613.70" x2="673.60" y2="613.70" stroke="#000" stroke-width="1.3"/>
<path d="M679.90,613.70 L670.90,618.70 L673.42,613.70 L670.90,608.70 Z" fill="#000"/>
<line x1="718.40" y1="381.60" x2="838.44" y2="407.75" stroke="#000" stroke-width="1.3"/>
<path d="M844.94,409.17 L834.70,411.54 L838.26,407.71 L836.62,402.75 Z" fill="#000"/>
<line x1="718.40" y1="381.60" x2="838.96" y2="472.61" stroke="#000" stroke-width="1.3"/>
<path d="M844.27,476.62 L833.98,474.48 L838.81,472.50 L839.40,467.30 Z" fill="#000"/>
<line x1="718.40" y1="381.60" x2="842.31" y2="568.62" stroke="#000" stroke-width="1.3"/>
<path d="M845.99,574.16 L836.99,568.73 L842.21,568.46 L844.49,563.76 Z" fill="#000"/>
<line x1="718.40" y1="443.10" x2="838.50" y2="413.39" stroke="#000" stroke-width="1.3"/>
<path d="M844.95,411.80 L836.81,418.45 L838.31,413.44 L834.65,409.71 Z" fill="#000"/>
<line x1="718.40" y1="511.00" x2="840.04" y2="418.44" stroke="#000" stroke-width="1.3"/>
<path d="M845.33,414.41 L840.49,423.75 L839.89,418.55 L835.04,416.58 Z" fill="#000"/>
<line x1="718.40" y1="511.00" x2="837.42" y2="483.41" stroke="#000" stroke-width="1.3"/>
<path d="M843.90,481.91 L835.66,488.44 L837.23,483.46 L833.62,479.67 Z" fill="#000"/>
<line x1="718.40" y1="511.00" x2="839.10" y2="574.89" stroke="#000" stroke-width="1.3"/>
<path d="M844.97,578.00 L834.47,577.53 L838.93,574.80 L838.68,569.58 Z" fill="#000"/>
<line x1="718.40" y1="613.20" x2="842.53" y2="422.78" stroke="#000" stroke-width="1.3"/>
<path d="M846.16,417.21 L844.74,427.62 L842.43,422.94 L837.20,422.71 Z" fill="#000"/>
<line x1="718.40" y1="613.20" x2="839.86" y2="490.40" stroke="#000" stroke-width="1.3"/>
<path d="M844.54,485.67 L841.06,495.59 L839.73,490.53 L834.66,489.26 Z" fill="#000"/>
<line x1="718.40" y1="613.20" x2="838.34" y2="583.86" stroke="#000" stroke-width="1.3"/>
<path d="M844.80,582.28 L836.64,588.91 L838.16,583.91 L834.50,580.17 Z" fill="#000"/>
<circle cx="332.9" cy="410.2" r="17.95" fill="#f7cc9c" stroke="#0d0d0d" stroke-width="1.9"/>
<circle cx="332.9" cy="480.8" r="17.95" fill="#f7cc9c" stroke="#0d0d0d" stroke-width="1.9"/>
<circle cx="332.9" cy="580.5" r="17.95" fill="#f7cc9c" stroke="#0d0d0d" stroke-width="1.9"/>
<circle cx="488.85" cy="381.6" r="17.95" fill="#e8b0d2" stroke="#0d0d0d" stroke-width="1.9"/>
<circle cx="593.9" cy="381.6" r="17.95" fill="#e8b0d2" stroke="#0d0d0d" stroke-width="1.9"/>
<circle cx="699.4" cy="381.6" r="17.95" fill="#e8b0d2" stroke="#0d0d0d" stroke-width="1.9"/>
<circle cx="488.85" cy="443.1" r="17.95" fill="#e8b0d2" stroke="#0d0d0d" stroke-width="1.9"/>
<circle cx="593.9" cy="443.1" r="17.95" fill="#e8b0d2" stroke="#0d0d0d" stroke-width="1.9"/>
<circle cx="699.4" cy="443.1" r="17.95" fill="#e8b0d2" stroke="#0d0d0d" stroke-width="1.9"/>
<circle cx="488.85" cy="511.0" r="17.95" fill="#e8b0d2" stroke="#0d0d0d" stroke-width="1.9"/>
<circle cx="593.9" cy="511.0" r="17.95" fill="#e8b0d2" stroke="#0d0d0d" stroke-width="1.9"/>
<circle cx="699.4" cy="511.0" r="17.95" fill="#e8b0d2" stroke="#0d0d0d" stroke-width="1.9"/>
<circle cx="488.85" cy="613.2" r="17.95" fill="#e8b0d2" stroke="#0d0d0d" stroke-width="1.9"/>
<circle cx="593.9" cy="613.2" r="17.95" fill="#e8b0d2" stroke="#0d0d0d" stroke-width="1.9"/>
<circle cx="699.4" cy="613.2" r="17.95" fill="#e8b0d2" stroke="#0d0d0d" stroke-width="1.9"/>
<circle cx="863.9" cy="410.4" r="17.95" fill="#ea6e84" stroke="#0d0d0d" stroke-width="1.9"/>
<circle cx="862.85" cy="480.6" r="17.95" fill="#ea6e84" stroke="#0d0d0d" stroke-width="1.9"/>
<circle cx="863.75" cy="580.9" r="17.95" fill="#ea6e84" stroke="#0d0d0d" stroke-width="1.9"/>
<text x="326.28" y="415.00" font-size="15.3" fill="#2a2020" textLength="9.97" lengthAdjust="spacingAndGlyphs">V</text>
<text x="326.28" y="485.60" font-size="15.3" fill="#2a2020" textLength="9.97" lengthAdjust="spacingAndGlyphs">V</text>
<text x="336.22" y="419.80" font-size="9.5" fill="#2a2020" textLength="4.10" lengthAdjust="spacingAndGlyphs">1</text>
<text x="336.25" y="490.40" font-size="9.6" fill="#2a2020" textLength="5.80" lengthAdjust="spacingAndGlyphs">2</text>
<text x="319.88" y="585.00" font-size="15.3" fill="#2a2020" textLength="10.17" lengthAdjust="spacingAndGlyphs">V</text>
<text x="330.08" y="590.00" font-size="9.8" fill="#2a2020" textLength="16.90" lengthAdjust="spacingAndGlyphs">784</text>
<rect x="485.0" y="373.0" width="1.90" height="11.70" fill="#4a3840"/>
<rect x="485.2" y="433.0" width="1.70" height="11.60" fill="#4a3840"/>
<rect x="487.1" y="504.2" width="1.60" height="10.60" fill="#4a3840"/>
<rect x="484.7" y="605.1" width="1.60" height="11.50" fill="#4a3840"/>
<text x="488.32" y="389.90" font-size="9.5" fill="#4a3840" textLength="4.10" lengthAdjust="spacingAndGlyphs">1</text>
<text x="487.11" y="450.10" font-size="9.8" fill="#4a3840" textLength="6.39" lengthAdjust="spacingAndGlyphs">2</text>
<text x="488.95" y="520.30" font-size="9.8" fill="#4a3840" textLength="6.45" lengthAdjust="spacingAndGlyphs">3</text>
<text x="486.24" y="622.00" font-size="9.8" fill="#4a3840" textLength="12.19" lengthAdjust="spacingAndGlyphs">28</text>
<text x="592.16" y="387.90" font-size="13.5" fill="#4a3840" textLength="4.34" lengthAdjust="spacingAndGlyphs">f</text>
<text x="700.0" y="387.90" font-size="15.5" fill="#4a3840" text-anchor="middle" font-family="Liberation Serif, serif">Σ</text>
<text x="592.16" y="451.10" font-size="13.5" fill="#4a3840" textLength="4.34" lengthAdjust="spacingAndGlyphs">f</text>
<text x="700.0" y="451.10" font-size="15.5" fill="#4a3840" text-anchor="middle" font-family="Liberation Serif, serif">Σ</text>
<text x="592.16" y="518.00" font-size="13.5" fill="#4a3840" textLength="4.34" lengthAdjust="spacingAndGlyphs">f</text>
<text x="700.0" y="518.00" font-size="15.5" fill="#4a3840" text-anchor="middle" font-family="Liberation Serif, serif">Σ</text>
<text x="592.16" y="620.20" font-size="13.5" fill="#4a3840" textLength="4.34" lengthAdjust="spacingAndGlyphs">f</text>
<text x="700.0" y="620.20" font-size="15.5" fill="#4a3840" text-anchor="middle" font-family="Liberation Serif, serif">Σ</text>
<text x="859.46" y="416.40" font-size="15.5" fill="#2a1a1a" textLength="6.07" lengthAdjust="spacingAndGlyphs">1</text>
<text x="857.32" y="487.00" font-size="15.5" fill="#2a1a1a" textLength="9.56" lengthAdjust="spacingAndGlyphs">2</text>
<text x="858.99" y="586.70" font-size="15.5" fill="#2a1a1a" textLength="8.77" lengthAdjust="spacingAndGlyphs">9</text>
<rect x="332.95" y="525.95" width="1.9" height="1.9" rx="0.5" fill="#3a3030"/>
<rect x="332.95" y="531.20" width="1.9" height="1.9" rx="0.5" fill="#3a3030"/>
<rect x="332.95" y="536.45" width="1.9" height="1.9" rx="0.5" fill="#3a3030"/>
<rect x="487.05" y="560.65" width="1.9" height="1.9" rx="0.5" fill="#3a3030"/>
<rect x="487.05" y="565.95" width="1.9" height="1.9" rx="0.5" fill="#3a3030"/>
<rect x="487.05" y="571.25" width="1.9" height="1.9" rx="0.5" fill="#3a3030"/>
<rect x="596.05" y="560.65" width="1.9" height="1.9" rx="0.5" fill="#3a3030"/>
<rect x="596.05" y="565.95" width="1.9" height="1.9" rx="0.5" fill="#3a3030"/>
<rect x="596.05" y="571.25" width="1.9" height="1.9" rx="0.5" fill="#3a3030"/>
<rect x="701.45" y="560.65" width="1.9" height="1.9" rx="0.5" fill="#3a3030"/>
<rect x="701.45" y="565.95" width="1.9" height="1.9" rx="0.5" fill="#3a3030"/>
<rect x="701.45" y="571.25" width="1.9" height="1.9" rx="0.5" fill="#3a3030"/>
<rect x="865.05" y="525.95" width="1.9" height="1.9" rx="0.5" fill="#3a3030"/>
<rect x="865.05" y="531.20" width="1.9" height="1.9" rx="0.5" fill="#3a3030"/>
<rect x="865.05" y="536.45" width="1.9" height="1.9" rx="0.5" fill="#3a3030"/>
<path d="M901.8,495.1 H939.2 L936.6,486.4 L960.2,499.4 L936.6,512.4 L939.2,503.8 H901.8 Z" fill="#f0a4c6"/>
<rect x="977.0" y="404.0" width="148.6" height="197.0" fill="#f5f1a6"/>
<rect x="998.23" y="425.11" width="5.61" height="7.34" fill="#e54a44"/>
<rect x="1003.54" y="425.11" width="5.61" height="7.34" fill="#e54a44"/>
<rect x="1008.84" y="425.11" width="5.61" height="7.34" fill="#e44640"/>
<rect x="1014.15" y="425.11" width="5.61" height="7.34" fill="#e54a44"/>
<rect x="1019.46" y="425.11" width="5.61" height="7.34" fill="#e54a44"/>
<rect x="1024.76" y="425.11" width="5.61" height="7.34" fill="#e6564a"/>
<rect x="1030.07" y="425.11" width="5.61" height="7.34" fill="#e3363a"/>
<rect x="1035.38" y="425.11" width="5.61" height="7.34" fill="#e54a44"/>
<rect x="998.23" y="432.14" width="5.61" height="7.34" fill="#e6564a"/>
<rect x="1003.54" y="432.14" width="5.61" height="7.34" fill="#e23236"/>
<rect x="1008.84" y="432.14" width="5.61" height="7.34" fill="#e02c30"/>
<rect x="1014.15" y="432.14" width="5.61" height="7.34" fill="#e4403c"/>
<rect x="1019.46" y="432.14" width="5.61" height="7.34" fill="#e02c30"/>
<rect x="1024.76" y="432.14" width="5.61" height="7.34" fill="#e8705e"/>
<rect x="1030.07" y="432.14" width="5.61" height="7.34" fill="#e6564a"/>
<rect x="1035.38" y="432.14" width="5.61" height="7.34" fill="#e02c30"/>
<rect x="1040.69" y="432.14" width="5.61" height="7.34" fill="#e44640"/>
<rect x="1045.99" y="432.14" width="5.61" height="7.34" fill="#e44640"/>
<rect x="1008.84" y="439.18" width="5.61" height="7.34" fill="#e6564a"/>
<rect x="1014.15" y="439.18" width="5.61" height="7.34" fill="#e6564a"/>
<rect x="1019.46" y="439.18" width="5.61" height="7.34" fill="#e3363a"/>
<rect x="1024.76" y="439.18" width="5.61" height="7.34" fill="#e02c30"/>
<rect x="1030.07" y="439.18" width="5.61" height="7.34" fill="#e54a44"/>
<rect x="1035.38" y="439.18" width="5.61" height="7.34" fill="#e02c30"/>
<rect x="1040.69" y="439.18" width="5.61" height="7.34" fill="#e8846a"/>
<rect x="1045.99" y="439.18" width="5.61" height="7.34" fill="#e3363a"/>
<rect x="1051.30" y="439.18" width="5.61" height="7.34" fill="#e02c30"/>
<rect x="1056.61" y="439.18" width="5.61" height="7.34" fill="#e54a44"/>
<rect x="1019.46" y="446.21" width="5.61" height="7.34" fill="#e54a44"/>
<rect x="1024.76" y="446.21" width="5.61" height="7.34" fill="#e23236"/>
<rect x="1030.07" y="446.21" width="5.61" height="7.34" fill="#e54a44"/>
<rect x="1035.38" y="446.21" width="5.61" height="7.34" fill="#e6564a"/>
<rect x="1040.69" y="446.21" width="5.61" height="7.34" fill="#e54a44"/>
<rect x="1045.99" y="446.21" width="5.61" height="7.34" fill="#e6564a"/>
<rect x="1051.30" y="446.21" width="5.61" height="7.34" fill="#e8846a"/>
<rect x="1056.61" y="446.21" width="5.61" height="7.34" fill="#e3363a"/>
<rect x="1061.91" y="446.21" width="5.61" height="7.34" fill="#e44640"/>
<rect x="1067.22" y="446.21" width="5.61" height="7.34" fill="#e44640"/>
<rect x="1030.07" y="453.25" width="5.61" height="7.34" fill="#e23236"/>
<rect x="1035.38" y="453.25" width="5.61" height="7.34" fill="#e6564a"/>
<rect x="1040.69" y="453.25" width="5.61" height="7.34" fill="#e4403c"/>
<rect x="1045.99" y="453.25" width="5.61" height="7.34" fill="#e88a6a"/>
<rect x="1051.30" y="453.25" width="5.61" height="7.34" fill="#e4403c"/>
<rect x="1056.61" y="453.25" width="5.61" height="7.34" fill="#ea9470"/>
<rect x="1061.91" y="453.25" width="5.61" height="7.34" fill="#e23236"/>
<rect x="1067.22" y="453.25" width="5.61" height="7.34" fill="#e4403c"/>
<rect x="1072.53" y="453.25" width="5.61" height="7.34" fill="#e23236"/>
<rect x="1040.69" y="460.29" width="5.61" height="7.34" fill="#e4403c"/>
<rect x="1045.99" y="460.29" width="5.61" height="7.34" fill="#e44640"/>
<rect x="1051.30" y="460.29" width="5.61" height="7.34" fill="#e23236"/>
<rect x="1056.61" y="460.29" width="5.61" height="7.34" fill="#e02c30"/>
<rect x="1061.91" y="460.29" width="5.61" height="7.34" fill="#e3363a"/>
<rect x="1067.22" y="460.29" width="5.61" height="7.34" fill="#e44640"/>
<rect x="1072.53" y="460.29" width="5.61" height="7.34" fill="#e6604e"/>
<rect x="1077.84" y="460.29" width="5.61" height="7.34" fill="#e44640"/>
<rect x="1051.30" y="467.32" width="5.61" height="7.34" fill="#e4403c"/>
<rect x="1056.61" y="467.32" width="5.61" height="7.34" fill="#e02c30"/>
<rect x="1061.91" y="467.32" width="5.61" height="7.34" fill="#e6564a"/>
<rect x="1067.22" y="467.32" width="5.61" height="7.34" fill="#e23236"/>
<rect x="1072.53" y="467.32" width="5.61" height="7.34" fill="#e6604e"/>
<rect x="1077.84" y="467.32" width="5.61" height="7.34" fill="#e02c30"/>
<rect x="1083.14" y="467.32" width="5.61" height="7.34" fill="#e4403c"/>
<rect x="1067.22" y="474.36" width="5.61" height="7.34" fill="#e44640"/>
<rect x="1072.53" y="474.36" width="5.61" height="7.34" fill="#e23236"/>
<rect x="1077.84" y="474.36" width="5.61" height="7.34" fill="#e02c30"/>
<rect x="1083.14" y="474.36" width="5.61" height="7.34" fill="#e3363a"/>
<rect x="1056.61" y="481.39" width="5.61" height="7.34" fill="#e02c30"/>
<rect x="1061.91" y="481.39" width="5.61" height="7.34" fill="#e02c30"/>
<rect x="1067.22" y="481.39" width="5.61" height="7.34" fill="#e23236"/>
<rect x="1072.53" y="481.39" width="5.61" height="7.34" fill="#e3363a"/>
<rect x="1077.84" y="481.39" width="5.61" height="7.34" fill="#e54a44"/>
<rect x="1051.30" y="488.43" width="5.61" height="7.34" fill="#e54a44"/>
<rect x="1056.61" y="488.43" width="5.61" height="7.34" fill="#e3363a"/>
<rect x="1061.91" y="488.43" width="5.61" height="7.34" fill="#e23236"/>
<rect x="1067.22" y="488.43" width="5.61" height="7.34" fill="#e02c30"/>
<rect x="1072.53" y="488.43" width="5.61" height="7.34" fill="#e6564a"/>
<rect x="1077.84" y="488.43" width="5.61" height="7.34" fill="#e02c30"/>
<rect x="1045.99" y="495.46" width="5.61" height="7.34" fill="#e4403c"/>
<rect x="1051.30" y="495.46" width="5.61" height="7.34" fill="#e3363a"/>
<rect x="1056.61" y="495.46" width="5.61" height="7.34" fill="#e3363a"/>
<rect x="1061.91" y="495.46" width="5.61" height="7.34" fill="#e44640"/>
<rect x="1067.22" y="495.46" width="5.61" height="7.34" fill="#e23236"/>
<rect x="1072.53" y="495.46" width="5.61" height="7.34" fill="#efa878"/>
<rect x="1040.69" y="502.50" width="5.61" height="7.34" fill="#e44640"/>
<rect x="1045.99" y="502.50" width="5.61" height="7.34" fill="#e3363a"/>
<rect x="1051.30" y="502.50" width="5.61" height="7.34" fill="#e4403c"/>
<rect x="1056.61" y="502.50" width="5.61" height="7.34" fill="#e23236"/>
<rect x="1061.91" y="502.50" width="5.61" height="7.34" fill="#e6564a"/>
<rect x="1067.22" y="502.50" width="5.61" height="7.34" fill="#e02c30"/>
<rect x="1035.38" y="509.54" width="5.61" height="7.34" fill="#e44640"/>
<rect x="1040.69" y="509.54" width="5.61" height="7.34" fill="#e3363a"/>
<rect x="1045.99" y="509.54" width="5.61" height="7.34" fill="#e3363a"/>
<rect x="1051.30" y="509.54" width="5.61" height="7.34" fill="#e23236"/>
<rect x="1035.38" y="516.57" width="5.61" height="7.34" fill="#e4403c"/>
<rect x="1040.69" y="516.57" width="5.61" height="7.34" fill="#e4403c"/>
<rect x="1045.99" y="516.57" width="5.61" height="7.34" fill="#e02c30"/>
<rect x="1051.30" y="516.57" width="5.61" height="7.34" fill="#e02c30"/>
<rect x="1024.76" y="523.61" width="5.61" height="7.34" fill="#e6564a"/>
<rect x="1030.07" y="523.61" width="5.61" height="7.34" fill="#e3363a"/>
<rect x="1035.38" y="523.61" width="5.61" height="7.34" fill="#e6564a"/>
<rect x="1040.69" y="523.61" width="5.61" height="7.34" fill="#e4403c"/>
<rect x="1045.99" y="523.61" width="5.61" height="7.34" fill="#e54a44"/>
<rect x="1019.46" y="530.64" width="5.61" height="7.34" fill="#e44640"/>
<rect x="1024.76" y="530.64" width="5.61" height="7.34" fill="#e54a44"/>
<rect x="1030.07" y="530.64" width="5.61" height="7.34" fill="#e6564a"/>
<rect x="1035.38" y="530.64" width="5.61" height="7.34" fill="#e44640"/>
<rect x="1040.69" y="530.64" width="5.61" height="7.34" fill="#e3363a"/>
<rect x="1045.99" y="530.64" width="5.61" height="7.34" fill="#e3363a"/>
<rect x="1051.30" y="530.64" width="5.61" height="7.34" fill="#e44640"/>
<rect x="1061.91" y="530.64" width="5.61" height="7.34" fill="#e86a56"/>
<rect x="1067.22" y="530.64" width="5.61" height="7.34" fill="#e8846a"/>
<rect x="1014.15" y="537.68" width="5.61" height="7.34" fill="#e3363a"/>
<rect x="1019.46" y="537.68" width="5.61" height="7.34" fill="#e23236"/>
<rect x="1024.76" y="537.68" width="5.61" height="7.34" fill="#e44640"/>
<rect x="1030.07" y="537.68" width="5.61" height="7.34" fill="#e6604e"/>
<rect x="1035.38" y="537.68" width="5.61" height="7.34" fill="#e44640"/>
<rect x="1040.69" y="537.68" width="5.61" height="7.34" fill="#e44640"/>
<rect x="1045.99" y="537.68" width="5.61" height="7.34" fill="#e6564a"/>
<rect x="1051.30" y="537.68" width="5.61" height="7.34" fill="#e4403c"/>
<rect x="1056.61" y="537.68" width="5.61" height="7.34" fill="#e02c30"/>
<rect x="1061.91" y="537.68" width="5.61" height="7.34" fill="#e02c30"/>
<rect x="1067.22" y="537.68" width="5.61" height="7.34" fill="#e44640"/>
<rect x="1014.15" y="544.71" width="5.61" height="7.34" fill="#e8644e"/>
<rect x="1019.46" y="544.71" width="5.61" height="7.34" fill="#e6564a"/>
<rect x="1024.76" y="544.71" width="5.61" height="7.34" fill="#e3363a"/>
<rect x="1030.07" y="544.71" width="5.61" height="7.34" fill="#e23236"/>
<rect x="1035.38" y="544.71" width="5.61" height="7.34" fill="#e6564a"/>
<rect x="1040.69" y="544.71" width="5.61" height="7.34" fill="#e4403c"/>
<rect x="1045.99" y="544.71" width="5.61" height="7.34" fill="#e3363a"/>
<rect x="1051.30" y="544.71" width="5.61" height="7.34" fill="#e8846a"/>
<rect x="1056.61" y="544.71" width="5.61" height="7.34" fill="#e02c30"/>
<rect x="1061.91" y="544.71" width="5.61" height="7.34" fill="#e3363a"/>
<rect x="1067.22" y="544.71" width="5.61" height="7.34" fill="#e54a44"/>
<rect x="1072.53" y="544.71" width="5.61" height="7.34" fill="#e23236"/>
<rect x="1077.84" y="544.71" width="5.61" height="7.34" fill="#e6564a"/>
<rect x="1083.14" y="544.71" width="5.61" height="7.34" fill="#e3363a"/>
<rect x="1088.45" y="544.71" width="5.61" height="7.34" fill="#e44640"/>
<rect x="1093.76" y="544.71" width="5.61" height="7.34" fill="#e3363a"/>
<rect x="1019.46" y="551.75" width="5.61" height="7.34" fill="#e02c30"/>
<rect x="1024.76" y="551.75" width="5.61" height="7.34" fill="#e3363a"/>
<rect x="1030.07" y="551.75" width="5.61" height="7.34" fill="#e54a44"/>
<rect x="1035.38" y="551.75" width="5.61" height="7.34" fill="#e02c30"/>
<rect x="1040.69" y="551.75" width="5.61" height="7.34" fill="#e3363a"/>
<rect x="1045.99" y="551.75" width="5.61" height="7.34" fill="#e4403c"/>
<rect x="1051.30" y="551.75" width="5.61" height="7.34" fill="#e6564a"/>
<rect x="1056.61" y="551.75" width="5.61" height="7.34" fill="#e8906c"/>
<rect x="1061.91" y="551.75" width="5.61" height="7.34" fill="#e4403c"/>
<rect x="1067.22" y="551.75" width="5.61" height="7.34" fill="#e44640"/>
<rect x="1072.53" y="551.75" width="5.61" height="7.34" fill="#e44640"/>
<rect x="1077.84" y="551.75" width="5.61" height="7.34" fill="#e6564a"/>
<rect x="1083.14" y="551.75" width="5.61" height="7.34" fill="#e6564a"/>
<rect x="1088.45" y="551.75" width="5.61" height="7.34" fill="#e6564a"/>
<rect x="1093.76" y="551.75" width="5.61" height="7.34" fill="#e02c30"/>
<rect x="1099.06" y="551.75" width="5.61" height="7.34" fill="#e02c30"/>
<rect x="1040.69" y="558.79" width="5.61" height="7.34" fill="#e02c30"/>
<rect x="1045.99" y="558.79" width="5.61" height="7.34" fill="#e44640"/>
<rect x="1051.30" y="558.79" width="5.61" height="7.34" fill="#e6564a"/>
<rect x="1056.61" y="558.79" width="5.61" height="7.34" fill="#e44640"/>
<rect x="1061.91" y="558.79" width="5.61" height="7.34" fill="#e02c30"/>
<rect x="1067.22" y="558.79" width="5.61" height="7.34" fill="#e6564a"/>
<rect x="1072.53" y="558.79" width="5.61" height="7.34" fill="#e54a44"/>
<rect x="1077.84" y="558.79" width="5.61" height="7.34" fill="#e23236"/>
<rect x="1083.14" y="558.79" width="5.61" height="7.34" fill="#e87a60"/>
<rect x="1088.45" y="558.79" width="5.61" height="7.34" fill="#e44640"/>
<rect x="1093.76" y="558.79" width="5.61" height="7.34" fill="#e02c30"/>
<rect x="1099.06" y="558.79" width="5.61" height="7.34" fill="#e87a60"/>
<path d="M977,601.2 H1125.8 V404" fill="none" stroke="#8a8a80" stroke-width="0.9"/>
<text x="114.11" y="634.60" font-size="18.3" fill="#231f20" textLength="51.91" lengthAdjust="spacingAndGlyphs">28×28</text>
<text x="90.99" y="656.40" font-size="18.3" fill="#231f20" textLength="98.05" lengthAdjust="spacingAndGlyphs">Handwritten</text>
<text x="92.40" y="678.20" font-size="18.3" fill="#231f20" textLength="94.92" lengthAdjust="spacingAndGlyphs">MNIST digit</text>
<text x="115.34" y="699.90" font-size="18.3" fill="#231f20" textLength="49.15" lengthAdjust="spacingAndGlyphs">imges</text>
<text x="288.22" y="658.60" font-size="18.3" fill="#231f20" textLength="76.80" lengthAdjust="spacingAndGlyphs">784 Input</text>
<text x="295.74" y="680.00" font-size="18.3" fill="#231f20" textLength="66.34" lengthAdjust="spacingAndGlyphs">neurons</text>
<text x="517.62" y="668.80" font-size="18.3" fill="#231f20" textLength="154.48" lengthAdjust="spacingAndGlyphs">28 Hidden neurons</text>
<text x="825.72" y="658.40" font-size="18.3" fill="#231f20" textLength="80.21" lengthAdjust="spacingAndGlyphs">10 Output</text>
<text x="835.64" y="679.75" font-size="18.3" fill="#231f20" textLength="66.34" lengthAdjust="spacingAndGlyphs">neurons</text>
<rect x="0.8" y="753.6" width="519.5" height="295.9999999999999" rx="42" ry="42" fill="none" stroke="#231815" stroke-width="1.45"/>
<text x="9.95" y="792.65" font-size="27.5" fill="#231f20" font-weight="bold">e</text>
<text x="104.79" y="796.40" font-size="18.3" fill="#231f20" textLength="78.45" lengthAdjust="spacingAndGlyphs">1st epoch</text>
<text x="338.38" y="796.50" font-size="18.3" fill="#231f20" textLength="90.32" lengthAdjust="spacingAndGlyphs">40th epoch</text>
<rect x="31.2" y="807.5" width="189.4" height="221.8" fill="#f5f1a6"/>
<rect x="58.26" y="831.26" width="7.06" height="8.22" fill="#eca274"/>
<rect x="65.02" y="831.26" width="7.06" height="8.22" fill="#eca274"/>
<rect x="71.79" y="831.26" width="7.06" height="8.22" fill="#f3d190"/>
<rect x="78.55" y="831.26" width="7.06" height="8.22" fill="#f0bb82"/>
<rect x="92.08" y="831.26" width="7.06" height="8.22" fill="#f0bb82"/>
<rect x="105.61" y="831.26" width="7.06" height="8.22" fill="#eca274"/>
<rect x="58.26" y="839.19" width="7.06" height="8.22" fill="#eca274"/>
<rect x="65.02" y="839.19" width="7.06" height="8.22" fill="#f0bb82"/>
<rect x="71.79" y="839.19" width="7.06" height="8.22" fill="#f0bb82"/>
<rect x="78.55" y="839.19" width="7.06" height="8.22" fill="#eca274"/>
<rect x="92.08" y="839.19" width="7.06" height="8.22" fill="#f3d190"/>
<rect x="98.84" y="839.19" width="7.06" height="8.22" fill="#f0bb82"/>
<rect x="105.61" y="839.19" width="7.06" height="8.22" fill="#f0bb82"/>
<rect x="112.37" y="839.19" width="7.06" height="8.22" fill="#f0bb82"/>
<rect x="119.14" y="839.19" width="7.06" height="8.22" fill="#f0bb82"/>
<rect x="71.79" y="847.11" width="7.06" height="8.22" fill="#f3d190"/>
<rect x="78.55" y="847.11" width="7.06" height="8.22" fill="#f3d190"/>
<rect x="92.08" y="847.11" width="7.06" height="8.22" fill="#f3d190"/>
<rect x="98.84" y="847.11" width="7.06" height="8.22" fill="#eca274"/>
<rect x="105.61" y="847.11" width="7.06" height="8.22" fill="#eca274"/>
<rect x="112.37" y="847.11" width="7.06" height="8.22" fill="#f3d190"/>
<rect x="119.14" y="847.11" width="7.06" height="8.22" fill="#eca274"/>
<rect x="125.90" y="847.11" width="7.06" height="8.22" fill="#f0bb82"/>
<rect x="132.66" y="847.11" width="7.06" height="8.22" fill="#f0bb82"/>
<rect x="92.08" y="855.03" width="7.06" height="8.22" fill="#f0bb82"/>
<rect x="98.84" y="855.03" width="7.06" height="8.22" fill="#f3d190"/>
<rect x="105.61" y="855.03" width="7.06" height="8.22" fill="#f0bb82"/>
<rect x="112.37" y="855.03" width="7.06" height="8.22" fill="#eca274"/>
<rect x="119.14" y="855.03" width="7.06" height="8.22" fill="#f3d190"/>
<rect x="125.90" y="855.03" width="7.06" height="8.22" fill="#f3d190"/>
<rect x="132.66" y="855.03" width="7.06" height="8.22" fill="#f0bb82"/>
<rect x="139.43" y="855.03" width="7.06" height="8.22" fill="#f0bb82"/>
<rect x="146.19" y="855.03" width="7.06" height="8.22" fill="#f0bb82"/>
<rect x="98.84" y="862.95" width="7.06" height="8.22" fill="#eca274"/>
<rect x="105.61" y="862.95" width="7.06" height="8.22" fill="#eca274"/>
<rect x="112.37" y="862.95" width="7.06" height="8.22" fill="#f0bb82"/>
<rect x="119.14" y="862.95" width="7.06" height="8.22" fill="#f0bb82"/>
<rect x="125.90" y="862.95" width="7.06" height="8.22" fill="#f0bb82"/>
<rect x="132.66" y="862.95" width="7.06" height="8.22" fill="#f3d190"/>
<rect x="139.43" y="862.95" width="7.06" height="8.22" fill="#eca274"/>
<rect x="146.19" y="862.95" width="7.06" height="8.22" fill="#f0bb82"/>
<rect x="152.96" y="862.95" width="7.06" height="8.22" fill="#f0bb82"/>
<rect x="119.14" y="870.87" width="7.06" height="8.22" fill="#f0bb82"/>
<rect x="125.90" y="870.87" width="7.06" height="8.22" fill="#eca274"/>
<rect x="132.66" y="870.87" width="7.06" height="8.22" fill="#eca274"/>
<rect x="139.43" y="870.87" width="7.06" height="8.22" fill="#f0bb82"/>
<rect x="146.19" y="870.87" width="7.06" height="8.22" fill="#eca274"/>
<rect x="152.96" y="870.87" width="7.06" height="8.22" fill="#f0bb82"/>
<rect x="159.72" y="870.87" width="7.06" height="8.22" fill="#f3d190"/>
<rect x="125.90" y="878.79" width="7.06" height="8.22" fill="#f0bb82"/>
<rect x="132.66" y="878.79" width="7.06" height="8.22" fill="#eca274"/>
<rect x="139.43" y="878.79" width="7.06" height="8.22" fill="#f3d190"/>
<rect x="146.19" y="878.79" width="7.06" height="8.22" fill="#f3d190"/>
<rect x="152.96" y="878.79" width="7.06" height="8.22" fill="#f3d190"/>
<rect x="159.72" y="878.79" width="7.06" height="8.22" fill="#f4e3a0"/>
<rect x="166.49" y="878.79" width="7.06" height="8.22" fill="#eca274"/>
<rect x="146.19" y="886.71" width="7.06" height="8.22" fill="#f0bb82"/>
<rect x="152.96" y="886.71" width="7.06" height="8.22" fill="#f0bb82"/>
<rect x="159.72" y="886.71" width="7.06" height="8.22" fill="#eca274"/>
<rect x="166.49" y="886.71" width="7.06" height="8.22" fill="#f3d190"/>
<rect x="132.66" y="894.64" width="7.06" height="8.22" fill="#eca274"/>
<rect x="139.43" y="894.64" width="7.06" height="8.22" fill="#eca274"/>
<rect x="146.19" y="894.64" width="7.06" height="8.22" fill="#f0bb82"/>
<rect x="152.96" y="894.64" width="7.06" height="8.22" fill="#f0bb82"/>
<rect x="159.72" y="894.64" width="7.06" height="8.22" fill="#f0bb82"/>
<rect x="125.90" y="902.56" width="7.06" height="8.22" fill="#f3d190"/>
<rect x="132.66" y="902.56" width="7.06" height="8.22" fill="#eca274"/>
<rect x="139.43" y="902.56" width="7.06" height="8.22" fill="#eca274"/>
<rect x="146.19" y="902.56" width="7.06" height="8.22" fill="#e99068"/>
<rect x="152.96" y="902.56" width="7.06" height="8.22" fill="#f0bb82"/>
<rect x="159.72" y="902.56" width="7.06" height="8.22" fill="#f0bb82"/>
<rect x="119.14" y="910.48" width="7.06" height="8.22" fill="#f0bb82"/>
<rect x="125.90" y="910.48" width="7.06" height="8.22" fill="#f0bb82"/>
<rect x="132.66" y="910.48" width="7.06" height="8.22" fill="#f3d190"/>
<rect x="139.43" y="910.48" width="7.06" height="8.22" fill="#f3d190"/>
<rect x="146.19" y="910.48" width="7.06" height="8.22" fill="#f3d190"/>
<rect x="152.96" y="910.48" width="7.06" height="8.22" fill="#f0bb82"/>
<rect x="112.37" y="918.40" width="7.06" height="8.22" fill="#eca274"/>
<rect x="119.14" y="918.40" width="7.06" height="8.22" fill="#f0bb82"/>
<rect x="125.90" y="918.40" width="7.06" height="8.22" fill="#f0bb82"/>
<rect x="132.66" y="918.40" width="7.06" height="8.22" fill="#f3d190"/>
<rect x="139.43" y="918.40" width="7.06" height="8.22" fill="#eca274"/>
<rect x="146.19" y="918.40" width="7.06" height="8.22" fill="#eca274"/>
<rect x="105.61" y="926.32" width="7.06" height="8.22" fill="#f4e3a0"/>
<rect x="112.37" y="926.32" width="7.06" height="8.22" fill="#f0bb82"/>
<rect x="119.14" y="926.32" width="7.06" height="8.22" fill="#f3d190"/>
<rect x="125.90" y="926.32" width="7.06" height="8.22" fill="#eca274"/>
<rect x="105.61" y="934.24" width="7.06" height="8.22" fill="#f0bb82"/>
<rect x="112.37" y="934.24" width="7.06" height="8.22" fill="#eca274"/>
<rect x="119.14" y="934.24" width="7.06" height="8.22" fill="#f0bb82"/>
<rect x="125.90" y="934.24" width="7.06" height="8.22" fill="#f0bb82"/>
<rect x="92.08" y="942.16" width="7.06" height="8.22" fill="#f3d190"/>
<rect x="98.84" y="942.16" width="7.06" height="8.22" fill="#f0bb82"/>
<rect x="105.61" y="942.16" width="7.06" height="8.22" fill="#f3d190"/>
<rect x="112.37" y="942.16" width="7.06" height="8.22" fill="#eca274"/>
<rect x="119.14" y="942.16" width="7.06" height="8.22" fill="#f3d190"/>
<rect x="92.08" y="950.09" width="7.06" height="8.22" fill="#eca274"/>
<rect x="98.84" y="950.09" width="7.06" height="8.22" fill="#f0bb82"/>
<rect x="105.61" y="950.09" width="7.06" height="8.22" fill="#f0bb82"/>
<rect x="112.37" y="950.09" width="7.06" height="8.22" fill="#f0bb82"/>
<rect x="119.14" y="950.09" width="7.06" height="8.22" fill="#eca274"/>
<rect x="125.90" y="950.09" width="7.06" height="8.22" fill="#f0bb82"/>
<rect x="139.43" y="950.09" width="7.06" height="8.22" fill="#f3d190"/>
<rect x="146.19" y="950.09" width="7.06" height="8.22" fill="#f0bb82"/>
<rect x="78.55" y="958.01" width="7.06" height="8.22" fill="#eca274"/>
<rect x="92.08" y="958.01" width="7.06" height="8.22" fill="#f0bb82"/>
<rect x="98.84" y="958.01" width="7.06" height="8.22" fill="#f3d190"/>
<rect x="105.61" y="958.01" width="7.06" height="8.22" fill="#f3d190"/>
<rect x="112.37" y="958.01" width="7.06" height="8.22" fill="#f0bb82"/>
<rect x="119.14" y="958.01" width="7.06" height="8.22" fill="#f4eaa6"/>
<rect x="125.90" y="958.01" width="7.06" height="8.22" fill="#eca274"/>
<rect x="132.66" y="958.01" width="7.06" height="8.22" fill="#f0bb82"/>
<rect x="139.43" y="958.01" width="7.06" height="8.22" fill="#f0bb82"/>
<rect x="146.19" y="958.01" width="7.06" height="8.22" fill="#f0bb82"/>
<rect x="92.08" y="965.93" width="7.06" height="8.22" fill="#f0bb82"/>
<rect x="98.84" y="965.93" width="7.06" height="8.22" fill="#f3d190"/>
<rect x="105.61" y="965.93" width="7.06" height="8.22" fill="#f0bb82"/>
<rect x="112.37" y="965.93" width="7.06" height="8.22" fill="#eca274"/>
<rect x="119.14" y="965.93" width="7.06" height="8.22" fill="#f0bb82"/>
<rect x="125.90" y="965.93" width="7.06" height="8.22" fill="#f0bb82"/>
<rect x="132.66" y="965.93" width="7.06" height="8.22" fill="#f0bb82"/>
<rect x="139.43" y="965.93" width="7.06" height="8.22" fill="#f0bb82"/>
<rect x="146.19" y="965.93" width="7.06" height="8.22" fill="#eca274"/>
<rect x="152.96" y="965.93" width="7.06" height="8.22" fill="#eca274"/>
<rect x="159.72" y="965.93" width="7.06" height="8.22" fill="#f0bb82"/>
<rect x="166.49" y="965.93" width="7.06" height="8.22" fill="#f0bb82"/>
<rect x="173.25" y="965.93" width="7.06" height="8.22" fill="#f3d190"/>
<rect x="180.01" y="965.93" width="7.06" height="8.22" fill="#f3d190"/>
<rect x="92.08" y="973.85" width="7.06" height="8.22" fill="#f3d190"/>
<rect x="98.84" y="973.85" width="7.06" height="8.22" fill="#f0bb82"/>
<rect x="105.61" y="973.85" width="7.06" height="8.22" fill="#f0bb82"/>
<rect x="112.37" y="973.85" width="7.06" height="8.22" fill="#f0bb82"/>
<rect x="119.14" y="973.85" width="7.06" height="8.22" fill="#f0bb82"/>
<rect x="125.90" y="973.85" width="7.06" height="8.22" fill="#f0bb82"/>
<rect x="132.66" y="973.85" width="7.06" height="8.22" fill="#f3d190"/>
<rect x="139.43" y="973.85" width="7.06" height="8.22" fill="#f3d190"/>
<rect x="146.19" y="973.85" width="7.06" height="8.22" fill="#eca274"/>
<rect x="152.96" y="973.85" width="7.06" height="8.22" fill="#f0bb82"/>
<rect x="159.72" y="973.85" width="7.06" height="8.22" fill="#f0bb82"/>
<rect x="166.49" y="973.85" width="7.06" height="8.22" fill="#f0bb82"/>
<rect x="173.25" y="973.85" width="7.06" height="8.22" fill="#f3d190"/>
<rect x="180.01" y="973.85" width="7.06" height="8.22" fill="#eca274"/>
<rect x="186.78" y="973.85" width="7.06" height="8.22" fill="#f3d190"/>
<rect x="112.37" y="981.77" width="7.06" height="8.22" fill="#eca274"/>
<rect x="119.14" y="981.77" width="7.06" height="8.22" fill="#eca274"/>
<rect x="132.66" y="981.77" width="7.06" height="8.22" fill="#eca274"/>
<rect x="139.43" y="981.77" width="7.06" height="8.22" fill="#f0bb82"/>
<rect x="146.19" y="981.77" width="7.06" height="8.22" fill="#eca274"/>
<rect x="159.72" y="981.77" width="7.06" height="8.22" fill="#f3d190"/>
<rect x="173.25" y="981.77" width="7.06" height="8.22" fill="#f3d190"/>
<rect x="180.01" y="981.77" width="7.06" height="8.22" fill="#f3d190"/>
<rect x="186.78" y="981.77" width="7.06" height="8.22" fill="#f3d190"/>
<rect x="31.2" y="807.5" width="189.4" height="221.8" fill="none" stroke="#555" stroke-width="1"/>
<rect x="290.4" y="807.3" width="189.1" height="222.0" fill="#f5f1a6"/>
<rect x="317.41" y="831.09" width="7.05" height="8.23" fill="#e6564a"/>
<rect x="324.17" y="831.09" width="7.05" height="8.23" fill="#e23236"/>
<rect x="330.92" y="831.09" width="7.05" height="8.23" fill="#e23236"/>
<rect x="337.67" y="831.09" width="7.05" height="8.23" fill="#e44640"/>
<rect x="344.43" y="831.09" width="7.05" height="8.23" fill="#e23236"/>
<rect x="351.18" y="831.09" width="7.05" height="8.23" fill="#e44640"/>
<rect x="357.94" y="831.09" width="7.05" height="8.23" fill="#e02c30"/>
<rect x="364.69" y="831.09" width="7.05" height="8.23" fill="#e54a44"/>
<rect x="317.41" y="839.01" width="7.05" height="8.23" fill="#e44640"/>
<rect x="324.17" y="839.01" width="7.05" height="8.23" fill="#e6564a"/>
<rect x="330.92" y="839.01" width="7.05" height="8.23" fill="#e44640"/>
<rect x="337.67" y="839.01" width="7.05" height="8.23" fill="#e02c30"/>
<rect x="344.43" y="839.01" width="7.05" height="8.23" fill="#e54a44"/>
<rect x="351.18" y="839.01" width="7.05" height="8.23" fill="#e8705e"/>
<rect x="357.94" y="839.01" width="7.05" height="8.23" fill="#e54a44"/>
<rect x="364.69" y="839.01" width="7.05" height="8.23" fill="#e6564a"/>
<rect x="371.44" y="839.01" width="7.05" height="8.23" fill="#e02c30"/>
<rect x="378.20" y="839.01" width="7.05" height="8.23" fill="#e3363a"/>
<rect x="330.92" y="846.94" width="7.05" height="8.23" fill="#e3363a"/>
<rect x="337.67" y="846.94" width="7.05" height="8.23" fill="#e44640"/>
<rect x="344.43" y="846.94" width="7.05" height="8.23" fill="#e23236"/>
<rect x="351.18" y="846.94" width="7.05" height="8.23" fill="#e3363a"/>
<rect x="357.94" y="846.94" width="7.05" height="8.23" fill="#e23236"/>
<rect x="364.69" y="846.94" width="7.05" height="8.23" fill="#e02c30"/>
<rect x="371.44" y="846.94" width="7.05" height="8.23" fill="#e8846a"/>
<rect x="378.20" y="846.94" width="7.05" height="8.23" fill="#e02c30"/>
<rect x="384.95" y="846.94" width="7.05" height="8.23" fill="#e02c30"/>
<rect x="391.70" y="846.94" width="7.05" height="8.23" fill="#e44640"/>
<rect x="344.43" y="854.87" width="7.05" height="8.23" fill="#e3363a"/>
<rect x="351.18" y="854.87" width="7.05" height="8.23" fill="#e3363a"/>
<rect x="357.94" y="854.87" width="7.05" height="8.23" fill="#e44640"/>
<rect x="364.69" y="854.87" width="7.05" height="8.23" fill="#e44640"/>
<rect x="371.44" y="854.87" width="7.05" height="8.23" fill="#e4403c"/>
<rect x="378.20" y="854.87" width="7.05" height="8.23" fill="#e44640"/>
<rect x="384.95" y="854.87" width="7.05" height="8.23" fill="#e8846a"/>
<rect x="391.70" y="854.87" width="7.05" height="8.23" fill="#e6564a"/>
<rect x="398.46" y="854.87" width="7.05" height="8.23" fill="#e3363a"/>
<rect x="405.21" y="854.87" width="7.05" height="8.23" fill="#e44640"/>
<rect x="357.94" y="862.80" width="7.05" height="8.23" fill="#e6564a"/>
<rect x="364.69" y="862.80" width="7.05" height="8.23" fill="#e44640"/>
<rect x="371.44" y="862.80" width="7.05" height="8.23" fill="#e44640"/>
<rect x="378.20" y="862.80" width="7.05" height="8.23" fill="#e88a6a"/>
<rect x="384.95" y="862.80" width="7.05" height="8.23" fill="#e4403c"/>
<rect x="391.70" y="862.80" width="7.05" height="8.23" fill="#ea9470"/>
<rect x="398.46" y="862.80" width="7.05" height="8.23" fill="#e3363a"/>
<rect x="405.21" y="862.80" width="7.05" height="8.23" fill="#e02c30"/>
<rect x="411.96" y="862.80" width="7.05" height="8.23" fill="#e4403c"/>
<rect x="371.44" y="870.73" width="7.05" height="8.23" fill="#e6564a"/>
<rect x="378.20" y="870.73" width="7.05" height="8.23" fill="#e02c30"/>
<rect x="384.95" y="870.73" width="7.05" height="8.23" fill="#e6564a"/>
<rect x="391.70" y="870.73" width="7.05" height="8.23" fill="#e4403c"/>
<rect x="398.46" y="870.73" width="7.05" height="8.23" fill="#e4403c"/>
<rect x="405.21" y="870.73" width="7.05" height="8.23" fill="#e23236"/>
<rect x="411.96" y="870.73" width="7.05" height="8.23" fill="#e6604e"/>
<rect x="418.72" y="870.73" width="7.05" height="8.23" fill="#e4403c"/>
<rect x="384.95" y="878.66" width="7.05" height="8.23" fill="#e54a44"/>
<rect x="391.70" y="878.66" width="7.05" height="8.23" fill="#e6564a"/>
<rect x="398.46" y="878.66" width="7.05" height="8.23" fill="#e02c30"/>
<rect x="405.21" y="878.66" width="7.05" height="8.23" fill="#e44640"/>
<rect x="411.96" y="878.66" width="7.05" height="8.23" fill="#e6604e"/>
<rect x="418.72" y="878.66" width="7.05" height="8.23" fill="#e23236"/>
<rect x="425.47" y="878.66" width="7.05" height="8.23" fill="#e23236"/>
<rect x="405.21" y="886.59" width="7.05" height="8.23" fill="#e02c30"/>
<rect x="411.96" y="886.59" width="7.05" height="8.23" fill="#e23236"/>
<rect x="418.72" y="886.59" width="7.05" height="8.23" fill="#e4403c"/>
<rect x="425.47" y="886.59" width="7.05" height="8.23" fill="#e6564a"/>
<rect x="391.70" y="894.51" width="7.05" height="8.23" fill="#e02c30"/>
<rect x="398.46" y="894.51" width="7.05" height="8.23" fill="#e02c30"/>
<rect x="405.21" y="894.51" width="7.05" height="8.23" fill="#e3363a"/>
<rect x="411.96" y="894.51" width="7.05" height="8.23" fill="#e44640"/>
<rect x="418.72" y="894.51" width="7.05" height="8.23" fill="#e3363a"/>
<rect x="384.95" y="902.44" width="7.05" height="8.23" fill="#e23236"/>
<rect x="391.70" y="902.44" width="7.05" height="8.23" fill="#e44640"/>
<rect x="398.46" y="902.44" width="7.05" height="8.23" fill="#e44640"/>
<rect x="405.21" y="902.44" width="7.05" height="8.23" fill="#e4403c"/>
<rect x="411.96" y="902.44" width="7.05" height="8.23" fill="#e4403c"/>
<rect x="418.72" y="902.44" width="7.05" height="8.23" fill="#e54a44"/>
<rect x="378.20" y="910.37" width="7.05" height="8.23" fill="#e23236"/>
<rect x="384.95" y="910.37" width="7.05" height="8.23" fill="#e02c30"/>
<rect x="391.70" y="910.37" width="7.05" height="8.23" fill="#e23236"/>
<rect x="398.46" y="910.37" width="7.05" height="8.23" fill="#e23236"/>
<rect x="405.21" y="910.37" width="7.05" height="8.23" fill="#e44640"/>
<rect x="411.96" y="910.37" width="7.05" height="8.23" fill="#efa878"/>
<rect x="371.44" y="918.30" width="7.05" height="8.23" fill="#e44640"/>
<rect x="378.20" y="918.30" width="7.05" height="8.23" fill="#e02c30"/>
<rect x="384.95" y="918.30" width="7.05" height="8.23" fill="#e4403c"/>
<rect x="391.70" y="918.30" width="7.05" height="8.23" fill="#e6564a"/>
<rect x="398.46" y="918.30" width="7.05" height="8.23" fill="#e44640"/>
<rect x="405.21" y="918.30" width="7.05" height="8.23" fill="#e4403c"/>
<rect x="364.69" y="926.23" width="7.05" height="8.23" fill="#e44640"/>
<rect x="371.44" y="926.23" width="7.05" height="8.23" fill="#e54a44"/>
<rect x="378.20" y="926.23" width="7.05" height="8.23" fill="#e4403c"/>
<rect x="384.95" y="926.23" width="7.05" height="8.23" fill="#e4403c"/>
<rect x="364.69" y="934.16" width="7.05" height="8.23" fill="#e3363a"/>
<rect x="371.44" y="934.16" width="7.05" height="8.23" fill="#e02c30"/>
<rect x="378.20" y="934.16" width="7.05" height="8.23" fill="#e3363a"/>
<rect x="384.95" y="934.16" width="7.05" height="8.23" fill="#e6564a"/>
<rect x="351.18" y="942.09" width="7.05" height="8.23" fill="#e44640"/>
<rect x="357.94" y="942.09" width="7.05" height="8.23" fill="#e3363a"/>
<rect x="364.69" y="942.09" width="7.05" height="8.23" fill="#e02c30"/>
<rect x="371.44" y="942.09" width="7.05" height="8.23" fill="#e44640"/>
<rect x="378.20" y="942.09" width="7.05" height="8.23" fill="#e54a44"/>
<rect x="344.43" y="950.01" width="7.05" height="8.23" fill="#e4403c"/>
<rect x="351.18" y="950.01" width="7.05" height="8.23" fill="#e3363a"/>
<rect x="357.94" y="950.01" width="7.05" height="8.23" fill="#e6564a"/>
<rect x="364.69" y="950.01" width="7.05" height="8.23" fill="#e23236"/>
<rect x="371.44" y="950.01" width="7.05" height="8.23" fill="#e54a44"/>
<rect x="378.20" y="950.01" width="7.05" height="8.23" fill="#e4403c"/>
<rect x="384.95" y="950.01" width="7.05" height="8.23" fill="#e02c30"/>
<rect x="398.46" y="950.01" width="7.05" height="8.23" fill="#e86a56"/>
<rect x="405.21" y="950.01" width="7.05" height="8.23" fill="#e8846a"/>
<rect x="337.67" y="957.94" width="7.05" height="8.23" fill="#e54a44"/>
<rect x="344.43" y="957.94" width="7.05" height="8.23" fill="#e23236"/>
<rect x="351.18" y="957.94" width="7.05" height="8.23" fill="#e02c30"/>
<rect x="357.94" y="957.94" width="7.05" height="8.23" fill="#e6604e"/>
<rect x="364.69" y="957.94" width="7.05" height="8.23" fill="#e44640"/>
<rect x="371.44" y="957.94" width="7.05" height="8.23" fill="#e6564a"/>
<rect x="378.20" y="957.94" width="7.05" height="8.23" fill="#e23236"/>
<rect x="384.95" y="957.94" width="7.05" height="8.23" fill="#e02c30"/>
<rect x="391.70" y="957.94" width="7.05" height="8.23" fill="#e54a44"/>
<rect x="398.46" y="957.94" width="7.05" height="8.23" fill="#e3363a"/>
<rect x="405.21" y="957.94" width="7.05" height="8.23" fill="#e23236"/>
<rect x="337.67" y="965.87" width="7.05" height="8.23" fill="#e8644e"/>
<rect x="344.43" y="965.87" width="7.05" height="8.23" fill="#e54a44"/>
<rect x="351.18" y="965.87" width="7.05" height="8.23" fill="#e44640"/>
<rect x="357.94" y="965.87" width="7.05" height="8.23" fill="#e23236"/>
<rect x="364.69" y="965.87" width="7.05" height="8.23" fill="#e44640"/>
<rect x="371.44" y="965.87" width="7.05" height="8.23" fill="#e54a44"/>
<rect x="378.20" y="965.87" width="7.05" height="8.23" fill="#e54a44"/>
<rect x="384.95" y="965.87" width="7.05" height="8.23" fill="#e8846a"/>
<rect x="391.70" y="965.87" width="7.05" height="8.23" fill="#e54a44"/>
<rect x="398.46" y="965.87" width="7.05" height="8.23" fill="#e4403c"/>
<rect x="405.21" y="965.87" width="7.05" height="8.23" fill="#e4403c"/>
<rect x="411.96" y="965.87" width="7.05" height="8.23" fill="#e3363a"/>
<rect x="418.72" y="965.87" width="7.05" height="8.23" fill="#e4403c"/>
<rect x="425.47" y="965.87" width="7.05" height="8.23" fill="#e44640"/>
<rect x="432.22" y="965.87" width="7.05" height="8.23" fill="#e44640"/>
<rect x="438.98" y="965.87" width="7.05" height="8.23" fill="#e6564a"/>
<rect x="344.43" y="973.80" width="7.05" height="8.23" fill="#e54a44"/>
<rect x="351.18" y="973.80" width="7.05" height="8.23" fill="#e4403c"/>
<rect x="357.94" y="973.80" width="7.05" height="8.23" fill="#e02c30"/>
<rect x="364.69" y="973.80" width="7.05" height="8.23" fill="#e3363a"/>
<rect x="371.44" y="973.80" width="7.05" height="8.23" fill="#e23236"/>
<rect x="378.20" y="973.80" width="7.05" height="8.23" fill="#e44640"/>
<rect x="384.95" y="973.80" width="7.05" height="8.23" fill="#e4403c"/>
<rect x="391.70" y="973.80" width="7.05" height="8.23" fill="#e8906c"/>
<rect x="398.46" y="973.80" width="7.05" height="8.23" fill="#e23236"/>
<rect x="405.21" y="973.80" width="7.05" height="8.23" fill="#e6564a"/>
<rect x="411.96" y="973.80" width="7.05" height="8.23" fill="#e6564a"/>
<rect x="418.72" y="973.80" width="7.05" height="8.23" fill="#e23236"/>
<rect x="425.47" y="973.80" width="7.05" height="8.23" fill="#e4403c"/>
<rect x="432.22" y="973.80" width="7.05" height="8.23" fill="#e6564a"/>
<rect x="438.98" y="973.80" width="7.05" height="8.23" fill="#e3363a"/>
<rect x="445.73" y="973.80" width="7.05" height="8.23" fill="#e54a44"/>
<rect x="371.44" y="981.73" width="7.05" height="8.23" fill="#e23236"/>
<rect x="378.20" y="981.73" width="7.05" height="8.23" fill="#e6564a"/>
<rect x="384.95" y="981.73" width="7.05" height="8.23" fill="#e4403c"/>
<rect x="391.70" y="981.73" width="7.05" height="8.23" fill="#e44640"/>
<rect x="398.46" y="981.73" width="7.05" height="8.23" fill="#e6564a"/>
<rect x="405.21" y="981.73" width="7.05" height="8.23" fill="#e6564a"/>
<rect x="411.96" y="981.73" width="7.05" height="8.23" fill="#e02c30"/>
<rect x="418.72" y="981.73" width="7.05" height="8.23" fill="#e54a44"/>
<rect x="425.47" y="981.73" width="7.05" height="8.23" fill="#e87a60"/>
<rect x="432.22" y="981.73" width="7.05" height="8.23" fill="#e6564a"/>
<rect x="438.98" y="981.73" width="7.05" height="8.23" fill="#e54a44"/>
<rect x="445.73" y="981.73" width="7.05" height="8.23" fill="#e87a60"/>
<rect x="290.4" y="807.3" width="189.1" height="222.0" fill="none" stroke="#555" stroke-width="1"/>
<rect x="544.7" y="755.8" width="639.8999999999999" height="296.4000000000001" rx="36" ry="36" fill="none" stroke="#231815" stroke-width="1.45"/>
<text x="562.30" y="791.80" font-size="26" fill="#231f20" font-weight="bold">f</text>
<text x="663.53" y="796.40" font-size="18.3" fill="#231f20" textLength="79.01" lengthAdjust="spacingAndGlyphs">1st epoch</text>
<text x="970.42" y="796.30" font-size="18.3" fill="#231f20" textLength="90.37" lengthAdjust="spacingAndGlyphs">40th epoch</text>
<rect x="614.0" y="807.9" width="179.8" height="180.8" fill="#3b55a2"/>
<rect x="757.84" y="807.90" width="17.98" height="18.08" fill="#3b58a2"/>
<rect x="631.98" y="825.98" width="17.98" height="18.08" fill="#38609c"/>
<rect x="649.96" y="844.06" width="17.98" height="18.08" fill="#3a57a1"/>
<rect x="649.96" y="862.14" width="17.98" height="18.08" fill="#3a57a1"/>
<rect x="649.96" y="898.30" width="17.98" height="18.08" fill="#3b57a1"/>
<rect x="685.92" y="898.30" width="17.98" height="18.08" fill="#3b57a1"/>
<rect x="721.88" y="916.38" width="17.98" height="18.08" fill="#3a59a0"/>
<rect x="739.86" y="934.46" width="17.98" height="18.08" fill="#37649a"/>
<line x1="614.0" y1="825.98" x2="793.8" y2="825.98" stroke="#fff" stroke-opacity="0.13" stroke-width="1"/>
<line x1="614.0" y1="844.06" x2="793.8" y2="844.06" stroke="#fff" stroke-opacity="0.13" stroke-width="1"/>
<line x1="614.0" y1="952.54" x2="793.8" y2="952.54" stroke="#fff" stroke-opacity="0.13" stroke-width="1"/>
<line x1="614.0" y1="970.62" x2="793.8" y2="970.62" stroke="#fff" stroke-opacity="0.13" stroke-width="1"/>
<line x1="649.96" y1="807.9" x2="649.96" y2="988.7" stroke="#fff" stroke-opacity="0.1" stroke-width="1"/>
<line x1="667.94" y1="807.9" x2="667.94" y2="988.7" stroke="#fff" stroke-opacity="0.1" stroke-width="1"/>
<line x1="739.86" y1="807.9" x2="739.86" y2="988.7" stroke="#fff" stroke-opacity="0.1" stroke-width="1"/>
<line x1="757.84" y1="807.9" x2="757.84" y2="988.7" stroke="#fff" stroke-opacity="0.1" stroke-width="1"/>
<rect x="614.0" y="807.9" width="179.8" height="180.8" fill="none" stroke="#2b2b3b" stroke-width="1"/>
<text x="602.50" y="823.24" font-size="18" fill="#231f20" text-anchor="end">0</text>
<line x1="609.00" y1="816.94" x2="614.00" y2="816.94" stroke="#444" stroke-width="0.8"/>
<text x="622.99" y="1014.00" font-size="18" fill="#231f20" text-anchor="middle">0</text>
<line x1="622.99" y1="988.70" x2="622.99" y2="992.20" stroke="#444" stroke-width="0.8"/>
<text x="602.50" y="841.32" font-size="18" fill="#231f20" text-anchor="end">1</text>
<line x1="609.00" y1="835.02" x2="614.00" y2="835.02" stroke="#444" stroke-width="0.8"/>
<text x="640.97" y="1014.00" font-size="18" fill="#231f20" text-anchor="middle">1</text>
<line x1="640.97" y1="988.70" x2="640.97" y2="992.20" stroke="#444" stroke-width="0.8"/>
<text x="602.50" y="859.40" font-size="18" fill="#231f20" text-anchor="end">2</text>
<line x1="609.00" y1="853.10" x2="614.00" y2="853.10" stroke="#444" stroke-width="0.8"/>
<text x="658.95" y="1014.00" font-size="18" fill="#231f20" text-anchor="middle">2</text>
<line x1="658.95" y1="988.70" x2="658.95" y2="992.20" stroke="#444" stroke-width="0.8"/>
<text x="602.50" y="877.48" font-size="18" fill="#231f20" text-anchor="end">3</text>
<line x1="609.00" y1="871.18" x2="614.00" y2="871.18" stroke="#444" stroke-width="0.8"/>
<text x="676.93" y="1014.00" font-size="18" fill="#231f20" text-anchor="middle">3</text>
<line x1="676.93" y1="988.70" x2="676.93" y2="992.20" stroke="#444" stroke-width="0.8"/>
<text x="602.50" y="895.56" font-size="18" fill="#231f20" text-anchor="end">4</text>
<line x1="609.00" y1="889.26" x2="614.00" y2="889.26" stroke="#444" stroke-width="0.8"/>
<text x="694.91" y="1014.00" font-size="18" fill="#231f20" text-anchor="middle">4</text>
<line x1="694.91" y1="988.70" x2="694.91" y2="992.20" stroke="#444" stroke-width="0.8"/>
<text x="602.50" y="913.64" font-size="18" fill="#231f20" text-anchor="end">5</text>
<line x1="609.00" y1="907.34" x2="614.00" y2="907.34" stroke="#444" stroke-width="0.8"/>
<text x="712.89" y="1014.00" font-size="18" fill="#231f20" text-anchor="middle">5</text>
<line x1="712.89" y1="988.70" x2="712.89" y2="992.20" stroke="#444" stroke-width="0.8"/>
<text x="602.50" y="931.72" font-size="18" fill="#231f20" text-anchor="end">6</text>
<line x1="609.00" y1="925.42" x2="614.00" y2="925.42" stroke="#444" stroke-width="0.8"/>
<text x="730.87" y="1014.00" font-size="18" fill="#231f20" text-anchor="middle">6</text>
<line x1="730.87" y1="988.70" x2="730.87" y2="992.20" stroke="#444" stroke-width="0.8"/>
<text x="602.50" y="949.80" font-size="18" fill="#231f20" text-anchor="end">7</text>
<line x1="609.00" y1="943.50" x2="614.00" y2="943.50" stroke="#444" stroke-width="0.8"/>
<text x="748.85" y="1014.00" font-size="18" fill="#231f20" text-anchor="middle">7</text>
<line x1="748.85" y1="988.70" x2="748.85" y2="992.20" stroke="#444" stroke-width="0.8"/>
<text x="602.50" y="967.88" font-size="18" fill="#231f20" text-anchor="end">8</text>
<line x1="609.00" y1="961.58" x2="614.00" y2="961.58" stroke="#444" stroke-width="0.8"/>
<text x="766.83" y="1014.00" font-size="18" fill="#231f20" text-anchor="middle">8</text>
<line x1="766.83" y1="988.70" x2="766.83" y2="992.20" stroke="#444" stroke-width="0.8"/>
<text x="602.50" y="985.96" font-size="18" fill="#231f20" text-anchor="end">9</text>
<line x1="609.00" y1="979.66" x2="614.00" y2="979.66" stroke="#444" stroke-width="0.8"/>
<text x="784.81" y="1014.00" font-size="18" fill="#231f20" text-anchor="middle">9</text>
<line x1="784.81" y1="988.70" x2="784.81" y2="992.20" stroke="#444" stroke-width="0.8"/>
<text x="655.12" y="1040.40" font-size="18.3" fill="#231f20" textLength="96.16" lengthAdjust="spacingAndGlyphs">True Labels</text>
<text x="578.50" y="898.30" font-size="18.3" fill="#231f20" text-anchor="middle" textLength="136.5" lengthAdjust="spacingAndGlyphs" transform="rotate(-90 578.50 898.30)">Predicted Labels</text>
<rect x="925.7" y="807.9" width="179.8" height="180.8" fill="#3b55a2"/>
<rect x="925.70" y="807.90" width="17.98" height="18.08" fill="#4a8f99"/>
<rect x="943.68" y="825.98" width="17.98" height="18.08" fill="#8790c6"/>
<rect x="961.66" y="844.06" width="17.98" height="18.08" fill="#1f9a7b"/>
<rect x="979.64" y="862.14" width="17.98" height="18.08" fill="#24977c"/>
<rect x="997.62" y="880.22" width="17.98" height="18.08" fill="#1a9378"/>
<rect x="1015.60" y="898.30" width="17.98" height="18.08" fill="#3c918f"/>
<rect x="1033.58" y="916.38" width="17.98" height="18.08" fill="#2f998a"/>
<rect x="1051.56" y="934.46" width="17.98" height="18.08" fill="#4c949a"/>
<rect x="1069.54" y="952.54" width="17.98" height="18.08" fill="#1b7f80"/>
<rect x="1087.52" y="970.62" width="17.98" height="18.08" fill="#227a7c"/>
<rect x="1069.54" y="825.98" width="17.98" height="18.08" fill="#35609b"/>
<rect x="1033.58" y="844.06" width="17.98" height="18.08" fill="#345f98"/>
<rect x="1087.52" y="862.14" width="17.98" height="18.08" fill="#395b9c"/>
<rect x="1087.52" y="880.22" width="17.98" height="18.08" fill="#33609a"/>
<rect x="979.64" y="898.30" width="17.98" height="18.08" fill="#395a9d"/>
<rect x="1069.54" y="898.30" width="17.98" height="18.08" fill="#395a9d"/>
<rect x="961.66" y="916.38" width="17.98" height="18.08" fill="#37609c"/>
<rect x="979.64" y="952.54" width="17.98" height="18.08" fill="#395a9d"/>
<rect x="1051.56" y="970.62" width="17.98" height="18.08" fill="#34609c"/>
<rect x="1015.60" y="807.90" width="17.98" height="18.08" fill="#3b57a0"/>
<rect x="979.64" y="844.06" width="17.98" height="18.08" fill="#3b57a0"/>
<rect x="961.66" y="862.14" width="17.98" height="18.08" fill="#3b57a0"/>
<rect x="1015.60" y="862.14" width="17.98" height="18.08" fill="#3b57a0"/>
<rect x="961.66" y="898.30" width="17.98" height="18.08" fill="#3b58a0"/>
<rect x="1015.60" y="952.54" width="17.98" height="18.08" fill="#3b57a0"/>
<rect x="997.62" y="970.62" width="17.98" height="18.08" fill="#3b57a0"/>
<rect x="1069.54" y="807.90" width="17.98" height="18.08" fill="#3b57a0"/>
<line x1="925.7" y1="825.98" x2="1105.5" y2="825.98" stroke="#fff" stroke-opacity="0.13" stroke-width="1"/>
<line x1="925.7" y1="844.06" x2="1105.5" y2="844.06" stroke="#fff" stroke-opacity="0.13" stroke-width="1"/>
<line x1="925.7" y1="952.54" x2="1105.5" y2="952.54" stroke="#fff" stroke-opacity="0.13" stroke-width="1"/>
<line x1="925.7" y1="970.62" x2="1105.5" y2="970.62" stroke="#fff" stroke-opacity="0.13" stroke-width="1"/>
<line x1="961.66" y1="807.9" x2="961.66" y2="988.7" stroke="#fff" stroke-opacity="0.1" stroke-width="1"/>
<line x1="979.64" y1="807.9" x2="979.64" y2="988.7" stroke="#fff" stroke-opacity="0.1" stroke-width="1"/>
<line x1="1051.56" y1="807.9" x2="1051.56" y2="988.7" stroke="#fff" stroke-opacity="0.1" stroke-width="1"/>
<line x1="1069.54" y1="807.9" x2="1069.54" y2="988.7" stroke="#fff" stroke-opacity="0.1" stroke-width="1"/>
<rect x="925.7" y="807.9" width="179.8" height="180.8" fill="none" stroke="#2b2b3b" stroke-width="1"/>
<text x="920.80" y="823.24" font-size="18" fill="#231f20" text-anchor="end">0</text>
<line x1="922.00" y1="816.94" x2="925.70" y2="816.94" stroke="#444" stroke-width="0.8"/>
<text x="934.69" y="1014.00" font-size="18" fill="#231f20" text-anchor="middle">0</text>
<line x1="934.69" y1="988.70" x2="934.69" y2="992.20" stroke="#444" stroke-width="0.8"/>
<text x="920.80" y="841.32" font-size="18" fill="#231f20" text-anchor="end">1</text>
<line x1="922.00" y1="835.02" x2="925.70" y2="835.02" stroke="#444" stroke-width="0.8"/>
<text x="952.67" y="1014.00" font-size="18" fill="#231f20" text-anchor="middle">1</text>
<line x1="952.67" y1="988.70" x2="952.67" y2="992.20" stroke="#444" stroke-width="0.8"/>
<text x="920.80" y="859.40" font-size="18" fill="#231f20" text-anchor="end">2</text>
<line x1="922.00" y1="853.10" x2="925.70" y2="853.10" stroke="#444" stroke-width="0.8"/>
<text x="970.65" y="1014.00" font-size="18" fill="#231f20" text-anchor="middle">2</text>
<line x1="970.65" y1="988.70" x2="970.65" y2="992.20" stroke="#444" stroke-width="0.8"/>
<text x="920.80" y="877.48" font-size="18" fill="#231f20" text-anchor="end">3</text>
<line x1="922.00" y1="871.18" x2="925.70" y2="871.18" stroke="#444" stroke-width="0.8"/>
<text x="988.63" y="1014.00" font-size="18" fill="#231f20" text-anchor="middle">3</text>
<line x1="988.63" y1="988.70" x2="988.63" y2="992.20" stroke="#444" stroke-width="0.8"/>
<text x="920.80" y="895.56" font-size="18" fill="#231f20" text-anchor="end">4</text>
<line x1="922.00" y1="889.26" x2="925.70" y2="889.26" stroke="#444" stroke-width="0.8"/>
<text x="1006.61" y="1014.00" font-size="18" fill="#231f20" text-anchor="middle">4</text>
<line x1="1006.61" y1="988.70" x2="1006.61" y2="992.20" stroke="#444" stroke-width="0.8"/>
<text x="920.80" y="913.64" font-size="18" fill="#231f20" text-anchor="end">5</text>
<line x1="922.00" y1="907.34" x2="925.70" y2="907.34" stroke="#444" stroke-width="0.8"/>
<text x="1024.59" y="1014.00" font-size="18" fill="#231f20" text-anchor="middle">5</text>
<line x1="1024.59" y1="988.70" x2="1024.59" y2="992.20" stroke="#444" stroke-width="0.8"/>
<text x="920.80" y="931.72" font-size="18" fill="#231f20" text-anchor="end">6</text>
<line x1="922.00" y1="925.42" x2="925.70" y2="925.42" stroke="#444" stroke-width="0.8"/>
<text x="1042.57" y="1014.00" font-size="18" fill="#231f20" text-anchor="middle">6</text>
<line x1="1042.57" y1="988.70" x2="1042.57" y2="992.20" stroke="#444" stroke-width="0.8"/>
<text x="920.80" y="949.80" font-size="18" fill="#231f20" text-anchor="end">7</text>
<line x1="922.00" y1="943.50" x2="925.70" y2="943.50" stroke="#444" stroke-width="0.8"/>
<text x="1060.55" y="1014.00" font-size="18" fill="#231f20" text-anchor="middle">7</text>
<line x1="1060.55" y1="988.70" x2="1060.55" y2="992.20" stroke="#444" stroke-width="0.8"/>
<text x="920.80" y="967.88" font-size="18" fill="#231f20" text-anchor="end">8</text>
<line x1="922.00" y1="961.58" x2="925.70" y2="961.58" stroke="#444" stroke-width="0.8"/>
<text x="1078.53" y="1014.00" font-size="18" fill="#231f20" text-anchor="middle">8</text>
<line x1="1078.53" y1="988.70" x2="1078.53" y2="992.20" stroke="#444" stroke-width="0.8"/>
<text x="920.80" y="985.96" font-size="18" fill="#231f20" text-anchor="end">9</text>
<line x1="922.00" y1="979.66" x2="925.70" y2="979.66" stroke="#444" stroke-width="0.8"/>
<text x="1096.51" y="1014.00" font-size="18" fill="#231f20" text-anchor="middle">9</text>
<line x1="1096.51" y1="988.70" x2="1096.51" y2="992.20" stroke="#444" stroke-width="0.8"/>
<text x="967.42" y="1041.80" font-size="18.3" fill="#231f20" textLength="95.90" lengthAdjust="spacingAndGlyphs">True Labels</text>
<text x="895.70" y="898.30" font-size="18.3" fill="#231f20" text-anchor="middle" textLength="136.5" lengthAdjust="spacingAndGlyphs" transform="rotate(-90 895.70 898.30)">Predicted Labels</text>
<linearGradient id="cb808" x1="0" y1="1" x2="0" y2="0"><stop offset="0" stop-color="#3b55a2"/><stop offset="0.17" stop-color="#2f6a9a"/><stop offset="0.33" stop-color="#287c8e"/><stop offset="0.5" stop-color="#1e9a74"/><stop offset="0.67" stop-color="#3b9a90"/><stop offset="0.83" stop-color="#6a94b4"/><stop offset="1" stop-color="#8e94cc"/></linearGradient>
<rect x="808.0" y="807.9" width="12.5" height="181.6" fill="url(#cb808)" stroke="#555" stroke-width="0.8"/>
<text x="828.80" y="993.50" font-size="17.5" fill="#231f20">0</text>
<line x1="820.50" y1="988.70" x2="824.00" y2="988.70" stroke="#444" stroke-width="0.8"/>
<text x="828.80" y="963.40" font-size="17.5" fill="#231f20">30</text>
<line x1="820.50" y1="958.60" x2="824.00" y2="958.60" stroke="#444" stroke-width="0.8"/>
<text x="828.80" y="933.30" font-size="17.5" fill="#231f20">60</text>
<line x1="820.50" y1="928.50" x2="824.00" y2="928.50" stroke="#444" stroke-width="0.8"/>
<text x="828.80" y="903.20" font-size="17.5" fill="#231f20">90</text>
<line x1="820.50" y1="898.40" x2="824.00" y2="898.40" stroke="#444" stroke-width="0.8"/>
<text x="828.80" y="873.10" font-size="17.5" fill="#231f20">120</text>
<line x1="820.50" y1="868.30" x2="824.00" y2="868.30" stroke="#444" stroke-width="0.8"/>
<text x="828.80" y="843.00" font-size="17.5" fill="#231f20">150</text>
<line x1="820.50" y1="838.20" x2="824.00" y2="838.20" stroke="#444" stroke-width="0.8"/>
<text x="828.80" y="812.90" font-size="17.5" fill="#231f20">180</text>
<line x1="820.50" y1="808.10" x2="824.00" y2="808.10" stroke="#444" stroke-width="0.8"/>
<linearGradient id="cb1118" x1="0" y1="1" x2="0" y2="0"><stop offset="0" stop-color="#3b55a2"/><stop offset="0.17" stop-color="#2f6a9a"/><stop offset="0.33" stop-color="#287c8e"/><stop offset="0.5" stop-color="#1e9a74"/><stop offset="0.67" stop-color="#3b9a90"/><stop offset="0.83" stop-color="#6a94b4"/><stop offset="1" stop-color="#8e94cc"/></linearGradient>
<rect x="1118.8" y="807.9" width="12.5" height="181.6" fill="url(#cb1118)" stroke="#555" stroke-width="0.8"/>
<text x="1140.50" y="991.40" font-size="17" fill="#231f20">20</text>
<line x1="1131.30" y1="986.00" x2="1135.00" y2="986.00" stroke="#444" stroke-width="0.8"/>
<line x1="1131.30" y1="974.27" x2="1133.30" y2="974.27" stroke="#444" stroke-width="0.7"/>
<text x="1140.50" y="967.95" font-size="17" fill="#231f20">120</text>
<line x1="1131.30" y1="962.55" x2="1135.00" y2="962.55" stroke="#444" stroke-width="0.8"/>
<line x1="1131.30" y1="950.82" x2="1133.30" y2="950.82" stroke="#444" stroke-width="0.7"/>
<text x="1140.50" y="944.50" font-size="17" fill="#231f20">220</text>
<line x1="1131.30" y1="939.10" x2="1135.00" y2="939.10" stroke="#444" stroke-width="0.8"/>
<line x1="1131.30" y1="927.38" x2="1133.30" y2="927.38" stroke="#444" stroke-width="0.7"/>
<text x="1140.50" y="921.05" font-size="17" fill="#231f20">320</text>
<line x1="1131.30" y1="915.65" x2="1135.00" y2="915.65" stroke="#444" stroke-width="0.8"/>
<line x1="1131.30" y1="903.92" x2="1133.30" y2="903.92" stroke="#444" stroke-width="0.7"/>
<text x="1140.50" y="897.60" font-size="17" fill="#231f20">420</text>
<line x1="1131.30" y1="892.20" x2="1135.00" y2="892.20" stroke="#444" stroke-width="0.8"/>
<line x1="1131.30" y1="880.48" x2="1133.30" y2="880.48" stroke="#444" stroke-width="0.7"/>
<text x="1140.50" y="874.15" font-size="17" fill="#231f20">520</text>
<line x1="1131.30" y1="868.75" x2="1135.00" y2="868.75" stroke="#444" stroke-width="0.8"/>
<line x1="1131.30" y1="857.02" x2="1133.30" y2="857.02" stroke="#444" stroke-width="0.7"/>
<text x="1140.50" y="850.70" font-size="17" fill="#231f20">620</text>
<line x1="1131.30" y1="845.30" x2="1135.00" y2="845.30" stroke="#444" stroke-width="0.8"/>
<line x1="1131.30" y1="833.57" x2="1133.30" y2="833.57" stroke="#444" stroke-width="0.7"/>
<text x="1140.50" y="827.25" font-size="17" fill="#231f20">720</text>
<line x1="1131.30" y1="821.85" x2="1135.00" y2="821.85" stroke="#444" stroke-width="0.8"/>
<line x1="1131.30" y1="810.12" x2="1133.30" y2="810.12" stroke="#444" stroke-width="0.7"/>
</svg></body></html>
